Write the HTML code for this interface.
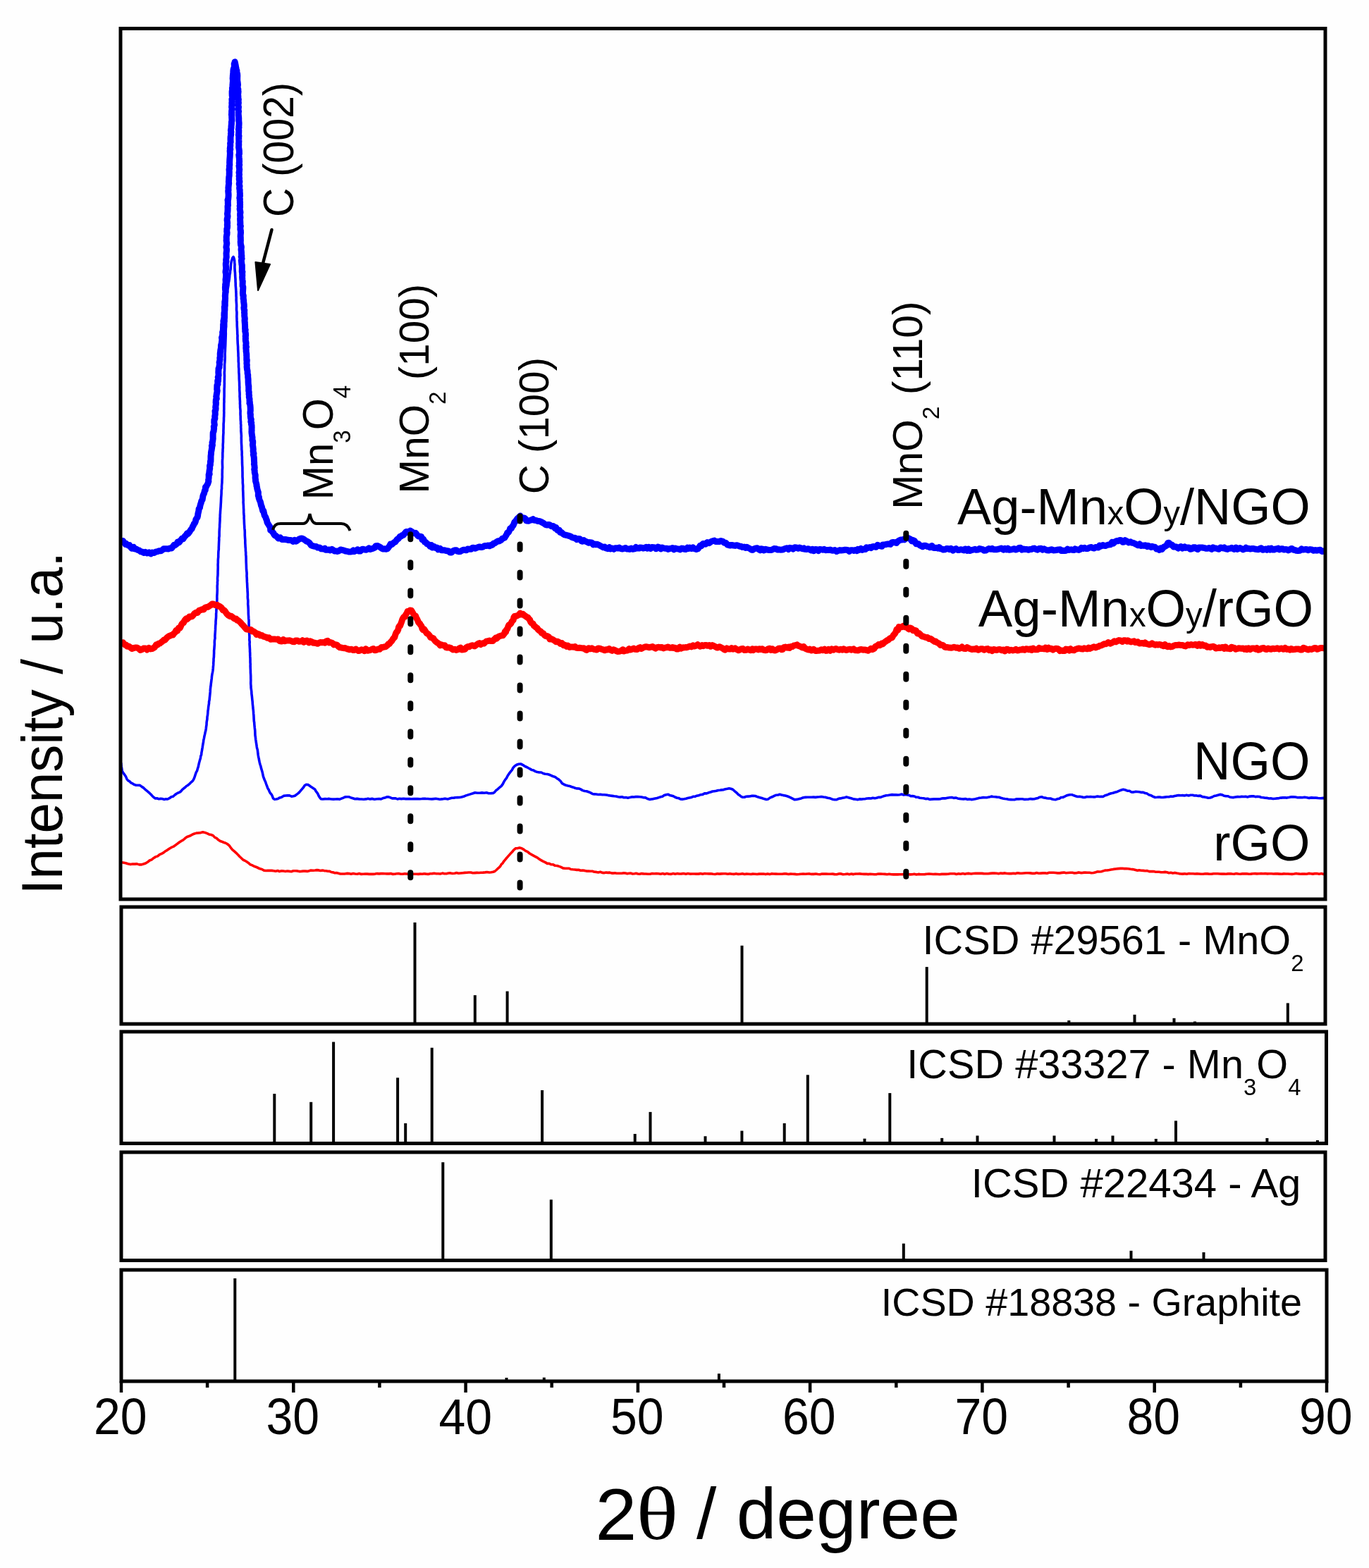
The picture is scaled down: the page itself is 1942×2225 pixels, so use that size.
<!DOCTYPE html>
<html><head><meta charset="utf-8"><title>XRD patterns</title>
<style>html,body{margin:0;padding:0;background:#fefefe;overflow:hidden}svg{display:block}
text{font-family:"Liberation Sans",Arial,sans-serif;fill:#000}</style></head>
<body><svg width="1942" height="2225" viewBox="0 0 1942 2225"><defs><clipPath id="cm"><rect x="171" y="40" width="1709" height="1236"/></clipPath></defs><g clip-path="url(#cm)"><path d="M171.7 1223.8L174.6 1224.0L178.4 1224.7L181.5 1225.7L185.2 1226.6L188.1 1226.1L191.2 1226.1L194.2 1225.9L197.4 1226.9L200.8 1226.9L203.6 1226.0L206.6 1225.0L209.4 1223.3L212.2 1221.0L215.2 1219.8L217.8 1217.7L220.7 1215.9L223.7 1214.9L226.4 1212.7L229.3 1211.3L232.1 1209.8L234.8 1207.7L237.6 1206.1L240.2 1204.3L243.2 1202.4L245.8 1201.4L248.6 1199.5L250.8 1197.9L253.0 1196.3L255.0 1194.8L257.1 1193.4L259.2 1192.4L261.4 1190.6L263.6 1188.7L265.4 1187.5L269.0 1186.3L272.1 1184.7L275.1 1183.2L278.7 1182.1L281.6 1181.9L284.8 1181.6L287.8 1180.8L290.7 1181.4L293.9 1182.6L296.5 1183.9L299.4 1184.5L302.3 1185.7L304.8 1188.4L307.2 1189.4L309.3 1191.4L312.4 1193.5L314.5 1194.2L317.5 1195.5L320.0 1196.2L322.3 1197.5L325.3 1199.9L327.3 1202.8L329.8 1205.9L332.3 1207.9L335.0 1210.3L337.6 1212.9L339.7 1215.3L342.4 1217.8L344.7 1220.0L347.5 1221.3L349.9 1222.7L352.4 1224.4L354.9 1226.8L357.4 1227.6L360.4 1229.3L363.2 1230.2L366.0 1231.5L368.8 1232.8L371.5 1233.4L374.2 1235.1L377.2 1235.5L379.8 1235.3L382.8 1235.4L385.6 1235.4L388.3 1235.8L391.0 1236.2L393.9 1235.5L396.5 1236.6L399.5 1235.8L402.1 1236.0L404.9 1236.5L407.6 1236.0L410.6 1236.4L413.4 1236.7L416.1 1235.8L419.1 1235.8L421.8 1235.9L424.7 1236.6L427.6 1236.4L430.4 1236.1L433.0 1236.1L436.0 1236.4L438.6 1235.8L441.1 1235.0L444.1 1235.2L447.0 1235.0L449.5 1234.6L452.3 1234.9L454.6 1235.5L457.4 1235.1L459.9 1235.6L462.5 1235.8L464.9 1236.3L467.7 1236.4L469.9 1237.5L472.6 1237.9L474.9 1238.8L477.5 1238.6L480.1 1239.2L482.8 1240.0L485.9 1240.0L488.9 1240.0L491.9 1239.4L495.0 1239.6L498.0 1240.2L501.0 1239.4L503.8 1240.0L507.0 1240.2L509.6 1239.6L512.4 1240.4L515.3 1240.3L518.3 1240.1L521.0 1240.1L523.7 1240.4L526.5 1240.4L529.3 1240.4L532.2 1240.1L534.9 1239.6L537.8 1239.9L540.5 1239.6L543.1 1239.6L546.1 1239.7L549.0 1239.9L551.6 1239.9L554.4 1239.6L557.2 1240.4L559.9 1240.2L562.7 1239.8L565.4 1239.5L568.5 1240.3L571.2 1240.3L574.1 1239.7L576.7 1240.0L579.5 1240.4L582.4 1240.5L585.0 1240.2L587.9 1240.2L590.7 1240.3L593.4 1240.4L596.2 1240.1L599.1 1240.2L601.7 1239.7L604.5 1240.1L607.5 1240.4L610.2 1239.8L613.2 1239.6L616.0 1239.3L618.8 1239.7L621.8 1239.7L624.6 1240.0L627.6 1239.1L630.3 1239.8L633.4 1239.7L636.2 1239.0L638.9 1238.9L641.9 1239.5L644.9 1239.3L647.6 1238.6L650.5 1239.3L653.3 1239.0L656.4 1238.7L659.3 1238.4L662.1 1238.2L664.8 1238.0L667.8 1238.0L670.6 1238.8L673.5 1238.6L676.5 1238.4L679.4 1238.5L682.3 1238.2L685.1 1238.1L688.1 1237.9L690.9 1237.5L694.0 1238.0L696.7 1237.7L699.6 1237.3L701.8 1236.5L704.1 1234.5L706.0 1232.7L707.8 1231.2L709.6 1229.3L711.3 1226.4L713.1 1224.9L714.5 1222.5L716.3 1220.4L718.0 1218.3L719.9 1216.1L721.4 1214.4L723.9 1211.6L726.4 1209.1L728.5 1206.3L731.4 1203.8L734.0 1203.8L737.0 1202.9L740.0 1203.7L742.9 1205.4L745.5 1207.4L748.4 1208.7L751.2 1211.0L754.0 1212.6L756.7 1214.1L759.5 1215.6L762.4 1217.1L765.0 1219.2L767.9 1220.8L770.7 1222.3L773.4 1223.6L776.4 1225.4L779.1 1225.4L782.0 1226.8L784.7 1226.8L787.5 1228.3L790.3 1228.5L793.1 1229.4L795.8 1230.4L798.6 1231.9L801.5 1232.3L804.1 1232.2L807.0 1232.2L809.7 1233.5L812.6 1233.8L815.3 1234.0L818.1 1234.4L820.7 1234.2L823.6 1235.3L826.4 1235.0L829.2 1235.4L832.0 1236.1L834.8 1236.1L837.6 1236.3L840.3 1236.3L843.2 1237.2L845.9 1237.4L848.7 1237.9L851.6 1237.3L854.4 1238.4L857.3 1238.6L859.8 1238.0L862.2 1238.4L864.9 1238.1L867.2 1238.9L869.6 1239.1L872.2 1238.8L874.8 1239.2L877.2 1239.2L879.7 1239.2L882.2 1239.3L884.7 1238.8L887.2 1239.0L889.8 1239.8L892.4 1239.3L895.0 1239.1L897.3 1240.0L900.0 1239.8L902.4 1239.3L904.9 1240.0L907.5 1240.2L910.1 1239.6L913.1 1239.9L916.3 1240.0L919.3 1240.2L922.4 1240.2L925.1 1239.6L928.1 1239.7L931.2 1239.6L934.2 1239.8L937.1 1240.2L940.2 1239.6L943.0 1240.4L946.0 1239.5L948.9 1240.3L952.1 1240.4L955.0 1239.5L957.9 1240.2L960.9 1239.6L963.9 1240.0L966.8 1239.9L969.7 1239.5L972.9 1240.2L975.8 1239.6L978.7 1240.1L981.9 1240.0L984.9 1240.0L987.6 1240.1L990.7 1240.1L993.7 1239.6L996.6 1240.3L999.5 1239.6L1002.5 1239.8L1005.5 1239.9L1008.6 1239.7L1011.5 1240.2L1014.5 1240.5L1017.6 1239.8L1020.4 1240.1L1023.4 1239.9L1026.5 1239.8L1029.3 1239.7L1032.4 1240.2L1035.4 1239.7L1038.3 1240.2L1041.1 1240.4L1044.3 1239.7L1047.3 1240.4L1050.2 1240.2L1053.1 1239.7L1056.1 1240.5L1059.0 1240.1L1062.0 1240.3L1065.2 1240.5L1067.9 1240.1L1070.8 1240.2L1074.1 1240.5L1076.8 1240.1L1079.8 1240.1L1083.0 1240.0L1086.0 1240.6L1088.9 1239.9L1091.9 1240.6L1094.9 1239.7L1097.6 1240.0L1100.7 1240.1L1103.6 1240.3L1106.7 1240.3L1109.7 1240.3L1112.7 1239.8L1115.6 1239.9L1118.5 1240.5L1121.5 1240.1L1124.5 1240.3L1127.4 1240.4L1130.3 1240.7L1133.3 1240.5L1136.4 1240.2L1139.3 1240.1L1142.4 1240.3L1145.4 1240.0L1148.4 1239.9L1151.3 1240.4L1154.3 1240.4L1157.3 1240.0L1160.3 1240.5L1163.3 1240.7L1166.1 1240.1L1169.1 1240.1L1172.0 1240.1L1175.0 1240.3L1178.0 1240.2L1181.1 1240.1L1184.1 1240.6L1186.9 1240.7L1189.9 1239.9L1193.1 1239.9L1195.8 1240.7L1198.7 1240.5L1201.9 1240.1L1204.7 1240.8L1207.8 1240.1L1210.8 1240.6L1213.7 1240.0L1216.8 1240.0L1219.6 1239.9L1222.8 1240.3L1225.7 1240.4L1228.8 1240.2L1231.5 1240.6L1234.4 1240.3L1237.6 1240.5L1240.5 1240.8L1243.5 1240.6L1246.4 1240.0L1249.4 1240.1L1252.3 1240.2L1255.3 1240.4L1258.4 1240.7L1261.4 1240.3L1264.4 1240.8L1267.3 1240.9L1270.1 1240.9L1273.3 1240.9L1276.3 1240.7L1279.2 1240.7L1282.3 1240.5L1285.2 1240.9L1288.0 1240.3L1290.9 1240.9L1294.1 1240.7L1296.9 1240.2L1300.0 1240.9L1302.9 1240.4L1306.0 1240.8L1308.9 1240.8L1311.8 1240.6L1315.0 1240.3L1318.0 1240.1L1320.8 1240.2L1323.8 1240.5L1326.9 1240.4L1330.0 1240.5L1333.0 1240.7L1336.0 1240.4L1338.8 1240.2L1341.9 1240.4L1345.0 1240.3L1347.9 1239.8L1350.9 1239.7L1353.9 1239.7L1356.7 1240.4L1359.9 1239.8L1362.6 1240.2L1365.8 1239.6L1368.8 1240.2L1371.8 1239.6L1374.6 1239.4L1377.7 1240.0L1380.8 1239.5L1383.8 1239.3L1386.7 1239.4L1389.5 1239.4L1392.8 1239.4L1395.5 1239.6L1398.6 1239.7L1401.7 1239.8L1404.7 1239.4L1407.7 1239.1L1410.5 1239.1L1413.7 1239.3L1416.6 1239.8L1419.5 1239.1L1422.5 1239.4L1425.5 1238.9L1428.6 1239.5L1431.6 1239.6L1434.6 1239.6L1437.6 1239.2L1440.6 1239.6L1443.4 1238.8L1446.4 1239.1L1449.6 1239.2L1452.6 1239.0L1455.5 1238.8L1458.5 1238.8L1461.3 1238.9L1464.4 1239.4L1467.3 1239.4L1470.5 1238.6L1473.5 1239.3L1476.5 1239.1L1479.3 1238.9L1482.4 1238.9L1485.2 1239.2L1488.3 1238.3L1491.3 1238.3L1494.3 1238.3L1497.3 1238.5L1500.4 1238.9L1503.2 1238.9L1506.3 1238.4L1509.4 1238.1L1512.2 1238.7L1515.1 1238.5L1518.3 1238.3L1521.3 1238.2L1524.3 1238.9L1527.1 1238.7L1530.1 1237.9L1533.1 1238.6L1536.1 1238.4L1539.0 1238.0L1542.2 1238.3L1545.4 1238.3L1548.3 1238.7L1551.2 1238.5L1554.2 1237.8L1556.7 1236.9L1559.5 1237.0L1562.4 1236.8L1565.0 1235.9L1568.0 1235.0L1570.6 1235.0L1573.6 1234.5L1576.1 1234.0L1579.6 1233.4L1582.8 1233.0L1586.1 1232.6L1589.5 1232.4L1592.1 1232.3L1594.7 1232.6L1597.6 1232.5L1600.1 1232.8L1603.7 1233.3L1606.8 1233.6L1609.8 1234.2L1613.6 1235.2L1615.9 1234.7L1618.9 1235.2L1621.7 1235.4L1624.6 1235.8L1627.4 1235.6L1630.2 1236.6L1633.1 1236.6L1636.0 1236.5L1638.6 1237.1L1641.3 1237.2L1644.1 1237.3L1647.0 1237.7L1649.7 1237.8L1652.7 1237.4L1655.4 1237.8L1658.2 1238.7L1660.8 1238.3L1663.7 1239.1L1666.7 1238.4L1669.2 1239.0L1672.2 1239.6L1674.9 1240.0L1677.8 1240.1L1680.5 1239.7L1683.5 1240.2L1686.5 1239.6L1689.1 1239.8L1692.2 1239.8L1695.0 1240.0L1698.1 1239.7L1700.9 1240.0L1703.8 1240.3L1706.8 1240.3L1709.7 1239.8L1712.8 1239.9L1715.7 1240.3L1718.5 1240.3L1721.5 1239.7L1724.4 1239.7L1727.4 1239.8L1730.3 1240.0L1733.4 1240.1L1736.1 1240.1L1739.2 1240.3L1742.0 1239.9L1745.1 1239.7L1747.9 1240.0L1750.8 1240.2L1753.7 1239.6L1756.7 1240.0L1759.8 1240.3L1762.5 1239.8L1765.5 1239.9L1768.5 1239.8L1771.5 1240.3L1774.4 1240.1L1777.3 1239.7L1780.3 1239.6L1783.0 1239.9L1785.9 1239.7L1789.0 1239.5L1791.8 1239.8L1794.9 1239.5L1797.7 1239.9L1800.6 1239.7L1803.6 1239.8L1806.5 1240.0L1809.4 1239.8L1812.4 1239.9L1815.2 1240.1L1818.2 1240.3L1821.1 1239.9L1824.1 1240.0L1827.1 1240.0L1830.0 1240.3L1832.8 1240.4L1835.8 1240.0L1838.7 1239.4L1841.6 1239.9L1844.6 1240.2L1847.5 1240.1L1850.6 1240.1L1853.5 1240.2L1856.5 1239.4L1859.3 1239.7L1862.2 1240.1L1865.2 1239.6L1868.0 1239.5L1871.4 1240.2L1874.5 1239.5L1877.6 1240.4L1879.8 1239.9" fill="none" stroke="#ff0000" stroke-width="3.6" stroke-linejoin="round" stroke-linecap="butt"/><path d="M171.7 1082.3L171.9 1084.6L172.3 1087.8L172.8 1090.7L173.3 1094.3L174.5 1096.3L176.2 1098.6L177.7 1100.7L178.8 1102.6L180.0 1105.6L181.7 1107.6L183.6 1108.6L185.7 1110.8L187.8 1111.7L190.2 1113.3L193.1 1114.2L196.0 1114.2L198.5 1114.4L201.2 1116.4L203.6 1117.9L205.8 1120.1L208.6 1122.4L210.4 1123.9L212.4 1125.7L214.3 1127.6L216.3 1129.7L218.2 1131.6L220.3 1133.0L222.6 1132.8L225.3 1133.7L227.9 1133.4L230.2 1133.5L232.7 1134.4L235.2 1133.8L237.8 1134.0L240.3 1132.7L243.0 1130.8L245.3 1130.3L248.0 1128.0L250.0 1126.5L252.2 1125.2L254.4 1124.4L256.5 1123.0L258.7 1120.4L260.6 1118.8L262.4 1117.5L264.4 1115.5L266.2 1114.5L268.2 1112.9L270.4 1110.7L272.2 1109.2L273.8 1107.5L275.2 1104.9L276.3 1101.9L277.1 1099.3L278.2 1096.1L279.6 1093.6L280.5 1090.2L281.2 1088.4L281.7 1085.9L282.4 1082.8L283.0 1080.6L283.7 1078.0L284.4 1075.9L284.8 1072.7L285.6 1071.1L285.9 1068.0L286.4 1065.4L286.8 1062.9L287.2 1060.6L287.6 1057.9L288.1 1054.9L288.5 1053.1L288.8 1050.2L289.5 1047.3L289.9 1044.8L290.6 1041.8L291.1 1039.3L291.8 1036.7L292.3 1033.5L292.5 1031.4L293.0 1028.5L293.1 1025.3L293.5 1022.6L293.9 1020.5L294.0 1017.2L294.5 1014.9L294.8 1011.8L294.9 1009.1L295.4 1006.3L295.6 1003.7L296.0 1001.0L296.5 998.0L296.5 995.9L297.1 993.2L297.3 990.7L297.7 986.9L297.9 984.9L298.2 981.9L298.3 978.9L298.6 975.8L299.0 973.3L299.3 970.2L299.6 968.1L299.9 965.5L300.3 962.4L300.5 959.8L301.0 956.5L301.5 954.1L301.9 951.8L302.3 948.2L302.4 946.2L302.7 943.4L302.8 940.0L303.0 937.9L303.0 935.1L303.4 932.3L303.5 928.8L303.6 927.1L303.6 923.3L303.9 920.6L304.1 917.6L304.4 914.1L304.3 911.2L304.5 908.1L305.0 905.9L304.9 902.5L305.1 899.3L305.3 896.7L305.5 893.4L305.6 890.2L305.7 887.9L306.0 885.0L306.0 882.0L306.2 879.6L306.5 876.7L306.6 874.2L306.6 871.2L306.8 868.9L306.9 866.1L307.1 863.0L307.2 860.7L307.2 857.7L307.5 855.4L307.8 852.2L307.9 849.9L307.8 846.9L307.9 844.6L308.1 842.2L308.2 839.4L308.3 836.8L308.2 834.3L308.2 831.3L308.5 828.6L308.4 826.1L308.7 823.7L308.5 821.8L308.6 819.2L308.9 816.7L309.0 813.9L309.0 810.8L309.1 808.7L309.2 805.8L309.2 804.1L309.1 801.0L309.3 798.9L309.3 795.7L309.4 793.4L309.7 790.5L309.7 787.8L309.8 785.1L309.9 782.4L310.3 779.6L310.3 776.6L310.4 774.5L310.5 771.6L310.6 769.0L310.8 765.8L310.7 763.6L311.1 760.7L311.1 758.2L311.1 755.0L311.2 752.6L311.4 749.5L311.6 747.6L311.6 744.6L311.8 742.0L312.0 738.7L312.0 735.7L312.2 733.3L312.2 730.7L312.4 728.5L312.5 726.2L312.7 723.3L312.9 721.0L313.1 718.2L313.2 715.8L313.4 712.9L313.5 710.9L313.6 707.7L313.7 705.6L313.9 703.3L314.1 700.1L314.1 697.5L314.2 695.4L314.6 693.1L314.5 690.5L314.7 687.5L315.0 684.6L315.0 682.8L315.1 679.9L315.3 676.9L315.2 673.3L315.3 670.2L315.3 667.0L315.6 663.6L315.5 660.0L315.4 657.3L315.4 654.3L315.7 650.2L315.8 647.9L315.8 645.7L315.8 643.0L316.0 640.5L316.0 637.9L316.3 635.2L316.2 632.0L316.3 629.7L316.5 627.4L316.5 624.3L316.6 622.1L316.6 619.8L316.8 616.4L317.0 613.8L316.9 611.8L317.0 609.1L317.1 606.4L317.1 603.5L317.1 601.4L317.4 598.6L317.5 595.9L317.5 593.3L317.7 590.3L317.7 587.9L317.8 585.5L317.7 582.9L317.8 580.7L317.8 578.2L317.8 575.0L317.8 572.2L318.0 570.3L317.9 567.1L318.0 565.1L318.1 562.5L318.1 559.3L318.1 556.7L318.1 554.5L318.1 551.6L318.3 548.8L318.3 547.1L318.4 544.0L318.3 541.6L318.4 539.4L318.4 536.1L318.5 533.7L318.4 531.4L318.3 528.9L318.5 525.9L318.6 523.0L318.6 520.2L318.6 517.1L318.9 514.1L319.0 511.7L319.2 507.9L319.2 505.5L319.1 502.3L319.3 499.1L319.4 497.0L319.5 494.0L319.7 490.4L319.8 487.9L319.9 485.0L320.0 481.7L320.1 479.4L320.2 476.2L320.3 473.7L320.2 470.7L320.3 468.3L320.4 466.0L320.7 463.5L320.7 461.0L320.7 458.2L321.0 455.6L320.9 453.5L321.2 450.4L321.2 447.9L321.3 445.0L321.3 442.4L321.6 439.8L321.6 437.2L321.6 434.6L321.8 432.0L321.8 429.4L321.9 427.2L321.9 424.1L322.1 422.0L322.3 419.0L322.4 416.7L322.6 414.4L323.0 410.6L323.5 407.7L324.0 404.9L324.2 401.7L324.8 399.0L325.2 396.3L325.6 393.2L325.8 390.2L326.4 387.7L326.6 384.2L327.1 382.2L327.4 378.1L327.6 375.1L328.1 372.0L328.5 370.2L329.9 365.9L331.1 364.5L332.0 366.6L332.6 369.5L332.7 372.6L333.0 375.1L332.9 379.0L333.0 381.6L333.2 384.8L333.5 387.2L333.6 390.7L333.8 393.5L334.0 396.2L334.0 399.0L334.2 402.2L334.2 404.8L334.5 408.1L334.7 410.8L334.8 413.5L335.0 416.3L335.0 420.0L335.2 422.2L335.1 425.9L335.3 428.9L335.5 431.3L335.6 434.5L335.5 437.1L335.5 440.0L335.9 442.7L335.9 445.6L335.8 449.1L335.9 451.4L336.0 454.9L336.2 457.3L336.2 461.1L336.3 463.6L336.5 466.5L336.6 469.1L336.7 471.0L336.7 473.5L337.0 476.1L336.9 479.6L337.0 482.1L337.1 484.3L337.2 487.2L337.4 489.6L337.6 492.5L337.6 494.8L337.7 496.9L337.9 500.0L338.0 502.2L338.0 505.1L338.2 507.3L338.2 510.3L338.2 513.0L338.5 515.4L338.5 518.2L338.5 520.6L338.8 523.1L338.8 525.5L338.8 528.2L339.1 531.3L339.2 534.2L339.2 536.7L339.3 538.8L339.5 541.9L339.6 544.1L339.6 546.6L339.8 549.7L339.7 552.3L339.8 554.1L340.0 556.8L340.1 559.8L340.0 562.5L340.2 564.8L340.3 567.7L340.5 569.8L340.4 572.4L340.6 574.8L340.6 578.1L340.9 580.9L341.1 583.4L341.0 585.3L341.0 588.2L341.2 590.8L341.2 593.8L341.3 596.0L341.6 598.9L341.5 600.9L341.8 603.3L341.7 606.4L341.9 608.7L341.8 611.3L342.1 614.2L342.3 617.1L342.4 618.9L342.3 621.5L342.4 624.4L342.4 627.2L342.5 629.6L342.7 632.7L342.8 634.8L342.8 637.5L343.1 640.4L343.2 643.1L343.1 645.1L343.4 648.3L343.4 650.9L343.5 653.7L343.5 656.7L343.7 660.8L343.9 663.6L343.9 667.4L344.0 670.3L344.0 673.4L344.0 676.3L344.3 680.5L344.3 682.6L344.3 685.3L344.6 688.1L344.7 690.5L344.6 693.6L344.7 696.7L344.9 699.5L344.9 701.3L345.0 704.5L345.1 707.0L345.2 710.3L345.1 712.8L345.3 715.3L345.5 718.5L345.5 720.4L345.7 723.2L345.7 726.7L345.8 729.0L346.2 732.6L346.1 735.0L346.3 737.7L346.4 741.4L346.5 743.6L346.7 746.3L346.9 749.9L347.2 752.7L347.3 755.0L347.3 758.8L347.4 761.0L347.6 763.9L347.8 766.6L347.8 770.4L348.0 773.3L348.1 776.3L348.4 778.9L348.4 781.2L348.7 784.0L348.7 787.4L349.0 789.3L349.1 792.5L349.1 794.8L349.2 798.4L349.3 800.3L349.4 803.0L349.5 806.5L349.6 808.5L350.0 812.0L350.1 814.0L350.0 817.4L350.2 819.9L350.3 821.9L350.4 825.4L350.6 827.9L350.7 830.6L350.8 833.3L351.0 835.7L351.1 839.2L351.3 841.2L351.4 844.6L351.3 846.7L351.4 849.0L351.8 851.9L351.8 854.1L351.7 857.4L352.0 860.1L352.1 862.1L352.2 864.2L352.3 867.1L352.3 869.8L352.4 872.3L352.6 874.6L352.7 877.4L353.0 880.3L353.0 882.7L353.0 885.4L353.1 887.1L353.3 890.2L353.3 892.6L353.4 895.5L353.6 897.6L353.7 900.6L353.9 902.9L353.9 905.7L353.8 908.1L354.2 911.1L354.0 913.9L354.2 916.6L354.3 918.5L354.5 921.8L354.5 924.5L354.7 926.6L354.7 929.4L354.8 931.9L355.0 935.0L355.0 937.0L355.0 939.9L355.2 942.4L355.1 945.4L355.2 947.9L355.4 951.6L355.4 954.2L355.6 957.1L355.7 959.5L355.7 962.0L355.8 965.0L355.7 968.3L355.7 970.4L356.0 973.6L356.0 975.8L356.4 978.6L356.8 981.6L356.9 984.6L357.3 987.4L357.6 990.4L357.8 992.6L358.2 996.0L358.3 998.6L358.7 1002.0L358.8 1003.8L359.2 1006.9L359.5 1010.0L359.6 1012.2L359.9 1015.2L360.0 1017.3L360.1 1020.2L360.3 1023.1L360.7 1025.4L360.8 1027.6L361.1 1030.9L361.3 1032.9L361.7 1035.9L361.8 1038.1L361.9 1041.4L362.0 1043.6L362.4 1046.1L362.7 1049.2L363.1 1051.6L363.3 1053.4L363.8 1056.2L364.2 1059.2L364.6 1061.7L365.2 1063.5L365.6 1066.3L365.8 1068.6L366.2 1071.5L366.7 1074.4L367.2 1076.2L367.6 1078.9L368.2 1081.7L369.0 1084.8L369.8 1087.0L370.5 1090.1L371.3 1092.7L372.1 1095.4L372.8 1098.6L373.4 1101.6L374.3 1104.1L375.4 1107.0L376.5 1109.2L377.7 1112.8L378.7 1115.4L379.8 1118.5L381.1 1120.5L382.4 1123.6L383.7 1125.8L385.1 1127.2L386.4 1129.9L387.5 1132.8L389.2 1134.2L391.6 1134.0L394.1 1133.5L396.8 1131.9L399.4 1131.2L402.2 1129.4L405.1 1129.0L407.7 1128.8L410.7 1128.9L413.6 1130.1L416.2 1129.8L418.3 1129.3L420.8 1127.4L422.8 1125.9L424.7 1124.1L426.8 1121.6L428.5 1119.6L430.5 1117.3L432.3 1114.5L434.4 1113.2L437.3 1113.6L440.2 1115.8L442.8 1117.5L446.6 1119.9L448.1 1122.7L449.6 1124.6L450.9 1126.6L452.1 1129.3L453.5 1131.6L455.2 1133.7L457.7 1134.0L461.0 1133.6L464.1 1133.7L466.9 1133.4L470.1 1134.0L473.0 1134.1L475.8 1134.0L478.9 1133.7L481.9 1134.2L484.4 1133.2L487.0 1132.1L489.6 1130.9L491.9 1130.7L495.2 1130.8L497.8 1131.9L500.6 1132.7L503.6 1133.8L506.4 1133.4L509.5 1133.9L512.7 1134.0L515.9 1134.2L519.1 1133.9L522.0 1133.2L525.1 1133.9L528.3 1133.4L531.2 1134.2L534.5 1133.8L537.6 1133.5L540.5 1133.9L543.4 1132.6L546.0 1132.0L548.9 1130.8L551.2 1130.9L553.9 1131.8L556.3 1132.9L558.8 1132.7L561.2 1132.9L563.8 1133.9L566.4 1133.3L569.4 1133.6L572.5 1133.3L575.4 1133.6L578.3 1133.6L581.1 1133.5L583.8 1133.7L586.9 1133.5L589.5 1133.6L592.4 1133.5L595.4 1133.7L598.2 1133.5L600.9 1133.2L603.9 1133.4L606.8 1133.5L609.7 1133.8L612.5 1133.9L615.4 1133.6L618.2 1133.3L621.2 1133.7L623.9 1134.2L627.0 1133.9L629.8 1133.4L632.6 1133.4L635.5 1133.9L638.1 1133.0L640.9 1132.3L643.8 1132.1L646.3 1131.8L649.1 1131.6L652.2 1131.5L654.8 1131.0L657.5 1130.3L661.0 1128.9L664.2 1127.9L667.4 1126.9L670.9 1125.8L673.9 1124.7L677.3 1125.2L680.6 1125.3L683.7 1124.9L686.9 1125.3L690.1 1124.8L693.2 1125.7L696.7 1125.6L699.6 1125.4L701.7 1124.0L703.6 1121.6L705.3 1120.5L707.2 1118.7L709.2 1117.0L711.2 1115.4L713.2 1112.6L714.7 1109.6L716.5 1106.6L718.5 1104.1L720.2 1100.8L721.9 1098.2L724.2 1095.2L726.3 1092.7L727.9 1089.4L730.2 1087.0L732.8 1085.3L735.8 1084.3L738.6 1084.0L740.8 1085.0L743.2 1086.4L745.3 1087.8L747.7 1088.7L749.9 1090.0L752.0 1091.1L754.4 1092.6L756.8 1093.1L759.4 1094.6L762.1 1095.5L764.7 1095.9L767.7 1096.0L770.5 1097.5L773.3 1098.2L776.3 1098.5L778.4 1099.0L781.8 1100.4L784.2 1101.6L787.3 1102.4L789.9 1104.4L792.6 1106.1L795.3 1108.5L797.4 1111.7L800.2 1113.2L802.8 1114.2L805.5 1114.9L808.0 1115.4L810.7 1116.5L813.3 1117.2L815.8 1118.3L818.6 1118.9L821.2 1119.0L823.6 1119.9L826.4 1121.6L829.4 1122.5L832.1 1122.7L834.8 1123.7L837.6 1124.9L840.4 1126.4L843.0 1126.9L845.8 1127.0L848.7 1127.5L851.6 1127.2L854.5 1127.8L857.1 1127.7L860.0 1128.0L862.9 1128.6L865.5 1129.0L868.4 1129.4L871.3 1129.8L873.9 1130.0L876.9 1130.8L879.6 1131.1L882.3 1130.7L885.0 1131.7L887.9 1131.6L890.7 1132.2L893.4 1131.6L896.2 1130.9L899.1 1131.0L901.8 1130.6L904.6 1130.5L907.3 1130.7L910.1 1131.0L912.9 1131.8L915.7 1131.9L918.6 1133.5L921.5 1134.4L924.3 1134.0L926.8 1133.6L929.5 1133.0L932.1 1132.5L934.7 1131.6L937.3 1130.7L939.7 1130.3L942.2 1128.6L944.9 1127.8L947.6 1127.2L949.9 1128.4L952.3 1129.0L955.2 1129.8L957.7 1131.3L960.3 1132.3L962.9 1132.6L965.3 1134.0L967.8 1134.1L970.5 1133.8L973.1 1133.3L975.5 1132.6L978.0 1132.1L980.8 1131.5L983.2 1130.3L985.8 1130.3L988.4 1129.2L991.1 1128.8L993.8 1127.7L996.7 1127.4L999.4 1125.9L1002.4 1125.9L1005.1 1124.8L1008.0 1124.1L1010.5 1123.0L1013.2 1122.7L1016.2 1122.3L1018.7 1121.5L1021.3 1121.3L1023.9 1120.9L1026.5 1120.6L1029.2 1119.8L1031.8 1119.3L1034.4 1118.7L1036.7 1119.2L1039.0 1120.0L1040.9 1121.4L1043.1 1123.6L1045.0 1124.9L1047.1 1127.3L1049.3 1128.6L1051.4 1130.3L1053.6 1131.3L1055.9 1131.3L1058.6 1130.3L1061.1 1130.1L1063.4 1130.0L1066.0 1129.4L1068.7 1129.4L1071.5 1129.5L1074.7 1130.8L1077.8 1131.7L1080.8 1132.5L1083.9 1133.6L1087.1 1134.5L1089.8 1133.9L1092.6 1131.9L1095.4 1130.8L1098.2 1129.4L1100.7 1128.3L1103.8 1128.0L1106.2 1127.2L1108.8 1128.0L1111.3 1128.6L1113.9 1129.0L1117.4 1130.0L1120.6 1131.3L1123.6 1132.9L1127.0 1134.7L1129.9 1134.4L1133.1 1133.8L1136.4 1132.9L1139.6 1131.7L1142.5 1131.4L1145.6 1131.3L1148.6 1131.2L1151.3 1131.2L1153.9 1131.1L1156.8 1131.4L1159.5 1131.0L1162.4 1130.8L1165.3 1130.5L1168.1 1131.0L1170.6 1131.2L1174.1 1132.3L1177.5 1132.8L1180.8 1134.2L1184.0 1134.7L1186.9 1134.6L1189.7 1133.3L1192.4 1132.9L1195.2 1132.3L1198.2 1131.7L1200.8 1130.9L1204.4 1131.9L1207.5 1132.8L1210.6 1133.9L1214.2 1134.2L1216.7 1134.8L1219.3 1133.9L1222.0 1134.1L1224.9 1133.7L1227.4 1133.6L1230.1 1133.0L1232.8 1132.9L1235.4 1133.0L1238.2 1132.2L1240.9 1132.8L1243.6 1132.3L1246.1 1131.4L1249.1 1131.4L1251.7 1130.4L1254.4 1129.4L1257.1 1128.8L1259.9 1128.5L1262.8 1128.0L1265.3 1127.6L1268.0 1127.9L1271.0 1127.9L1273.5 1128.0L1276.2 1127.7L1279.1 1127.1L1281.8 1127.9L1284.5 1127.5L1287.2 1127.9L1289.7 1128.5L1291.9 1129.7L1294.4 1129.6L1297.2 1130.0L1299.7 1131.3L1302.2 1131.3L1304.7 1132.2L1307.6 1132.5L1310.3 1132.7L1313.3 1133.6L1315.9 1133.3L1318.8 1134.4L1321.7 1134.1L1325.0 1133.9L1328.2 1133.9L1331.4 1133.9L1334.3 1133.6L1337.6 1132.7L1340.6 1132.9L1343.9 1132.2L1347.2 1131.8L1350.2 1131.5L1353.0 1132.4L1355.8 1132.0L1358.5 1132.9L1361.3 1133.4L1364.0 1133.7L1367.0 1133.9L1369.6 1133.5L1372.2 1134.4L1375.2 1134.0L1378.0 1134.6L1380.8 1134.2L1383.6 1133.8L1386.5 1133.1L1389.2 1132.2L1391.9 1132.0L1394.8 1131.6L1397.8 1131.7L1400.6 1131.6L1403.3 1131.1L1406.3 1130.1L1408.7 1130.5L1411.9 1130.8L1414.5 1131.1L1417.1 1131.3L1419.9 1132.3L1422.6 1133.0L1425.4 1133.5L1428.1 1133.8L1431.0 1134.5L1433.9 1134.6L1436.4 1134.8L1439.2 1134.8L1442.2 1133.8L1445.2 1133.9L1447.7 1133.8L1450.5 1133.8L1453.5 1134.4L1456.3 1134.2L1459.1 1134.1L1461.8 1133.6L1464.6 1133.9L1467.3 1133.8L1469.9 1133.1L1472.5 1132.4L1474.9 1131.2L1477.6 1130.8L1480.1 1131.7L1482.5 1132.1L1485.1 1132.7L1487.6 1133.0L1490.1 1133.0L1492.6 1134.0L1495.1 1134.5L1497.7 1134.7L1500.2 1133.6L1502.7 1133.2L1505.2 1131.5L1507.5 1131.5L1510.1 1130.3L1512.7 1129.0L1515.2 1128.2L1517.7 1127.7L1520.6 1127.7L1523.3 1128.8L1526.1 1129.8L1528.6 1130.5L1531.5 1130.4L1534.4 1130.7L1536.7 1131.5L1539.4 1131.4L1541.8 1130.5L1544.4 1130.8L1547.0 1130.5L1549.5 1130.7L1551.9 1130.9L1554.3 1130.6L1557.0 1130.0L1559.7 1130.5L1562.3 1130.3L1564.6 1130.5L1567.6 1128.8L1570.5 1128.0L1573.0 1126.8L1576.3 1125.7L1578.8 1125.3L1581.8 1124.2L1584.9 1123.4L1587.8 1122.1L1590.7 1121.0L1593.4 1120.3L1596.5 1121.0L1599.2 1122.1L1602.2 1122.3L1605.0 1124.0L1607.6 1124.1L1610.6 1123.4L1613.5 1123.5L1616.4 1123.8L1619.2 1124.4L1621.8 1124.3L1624.6 1125.6L1627.3 1126.1L1630.1 1128.1L1633.0 1128.8L1635.8 1130.3L1638.6 1131.5L1641.3 1131.3L1644.3 1131.0L1646.9 1131.4L1649.7 1131.5L1652.6 1131.1L1655.2 1130.7L1658.2 1130.7L1660.9 1130.0L1663.6 1130.2L1666.4 1129.4L1669.3 1128.9L1672.1 1128.5L1674.8 1128.8L1677.8 1128.6L1680.4 1129.0L1683.2 1128.3L1686.1 1128.9L1688.9 1128.2L1691.8 1128.2L1694.4 1129.0L1697.3 1128.9L1699.9 1129.4L1702.7 1129.1L1705.6 1130.7L1708.2 1130.9L1711.2 1131.5L1713.8 1132.2L1716.7 1132.0L1719.6 1131.0L1722.4 1129.5L1725.2 1129.0L1727.9 1128.2L1730.6 1127.4L1733.6 1127.9L1736.2 1129.2L1739.1 1129.6L1741.7 1129.7L1744.4 1131.0L1747.3 1131.5L1749.9 1131.6L1752.7 1131.0L1755.6 1130.6L1758.6 1130.7L1761.4 1130.4L1764.1 1130.5L1767.1 1130.2L1769.7 1130.9L1772.6 1130.1L1775.6 1129.9L1778.2 1129.7L1780.9 1130.6L1783.8 1130.3L1786.7 1130.5L1789.1 1131.5L1791.9 1131.7L1794.7 1132.2L1797.7 1132.4L1800.4 1133.0L1803.3 1132.9L1805.9 1133.5L1808.8 1133.2L1811.6 1132.9L1814.5 1132.6L1817.1 1132.1L1819.8 1131.9L1822.8 1131.8L1825.5 1132.1L1828.3 1131.6L1831.0 1130.9L1834.2 1130.9L1837.5 1131.0L1840.8 1131.7L1844.1 1131.5L1847.3 1131.7L1850.6 1131.3L1853.9 1131.8L1857.0 1132.4L1860.4 1131.9L1863.4 1132.1L1866.8 1132.1L1869.9 1132.5L1873.6 1132.8L1877.3 1132.4L1879.8 1132.7" fill="none" stroke="#0000ff" stroke-width="3.6" stroke-linejoin="round" stroke-linecap="butt"/><path d="M171.5 910.7L173.3 913.0L174.5 911.8L177.3 915.1L178.8 915.1L180.4 917.2L182.5 917.0L184.4 918.3L187.1 920.5L189.8 919.5L191.8 919.1L193.8 918.9L196.7 920.3L199.0 922.5L201.3 921.8L203.6 920.0L206.1 919.9L208.6 922.0L211.1 919.3L213.7 920.9L216.0 920.6L217.8 919.3L219.3 918.6L221.7 914.7L223.3 915.0L224.8 913.2L226.7 913.1L228.5 911.5L230.2 910.4L232.5 908.0L234.0 908.3L235.9 905.9L237.3 904.4L239.6 902.8L241.7 902.0L243.5 901.1L245.2 901.1L246.7 898.9L248.4 897.4L249.7 894.6L251.6 895.1L253.5 890.9L255.3 891.1L256.9 887.6L258.1 885.2L259.5 883.9L260.4 883.7L261.7 880.7L264.0 878.0L265.0 878.8L267.1 877.2L268.6 875.1L270.7 875.0L272.4 874.7L274.2 872.9L276.0 870.4L278.5 869.1L280.1 869.4L282.5 866.3L285.1 865.4L286.3 864.8L288.9 864.9L290.9 862.3L292.5 861.6L295.0 861.2L297.0 859.9L299.0 858.8L300.7 856.9L303.0 857.3L304.8 858.4L307.9 858.3L309.8 860.2L311.5 860.3L314.0 862.1L315.2 864.0L316.2 865.9L317.9 865.9L319.5 867.6L321.3 870.5L323.8 873.0L326.4 874.5L328.0 874.3L330.2 876.1L332.7 878.1L335.0 878.1L336.4 880.2L337.6 880.2L339.6 881.9L341.5 883.8L342.5 885.1L344.2 886.7L346.1 888.9L347.6 890.8L349.4 892.8L352.1 893.4L353.7 893.7L355.9 893.4L357.7 895.9L359.5 895.8L362.1 897.7L363.8 900.4L365.9 899.3L368.2 900.3L369.3 901.9L371.4 901.4L374.0 903.3L375.2 903.4L377.6 904.2L379.4 905.2L381.4 904.8L383.9 907.2L385.9 907.0L388.2 906.9L390.5 907.1L393.0 907.4L394.7 907.0L396.8 909.6L399.5 910.1L401.8 907.4L404.0 909.8L406.3 909.0L408.2 909.1L410.8 908.7L412.8 909.4L415.4 910.5L417.7 910.7L419.4 908.9L421.9 909.0L424.2 910.3L427.0 910.1L429.2 908.6L431.1 911.4L433.2 909.8L435.3 909.0L438.1 912.0L439.9 909.8L441.7 910.4L444.1 912.2L446.0 912.1L447.8 912.5L450.6 913.3L451.9 912.5L454.6 911.5L456.9 911.8L458.8 911.4L461.1 912.2L462.9 909.9L464.9 909.4L467.1 912.0L468.8 911.5L471.2 912.2L473.5 914.9L475.5 914.6L477.9 915.1L479.7 917.1L481.8 918.7L483.5 918.8L485.7 919.4L488.3 919.7L489.5 919.4L492.3 920.9L494.3 921.1L495.8 921.8L498.5 921.2L500.8 922.4L502.2 922.5L504.9 921.1L506.9 922.6L508.5 923.5L510.6 923.0L512.9 921.8L515.1 922.3L516.9 923.7L518.9 920.7L521.3 923.2L523.6 922.8L525.5 922.5L527.5 921.3L529.8 920.5L531.5 922.7L533.6 922.5L536.5 920.9L538.6 921.3L540.9 918.6L542.6 918.7L545.2 917.9L546.9 917.8L549.5 915.7L550.8 914.0L552.3 913.7L553.9 911.4L555.8 909.5L557.8 906.2L558.8 905.1L559.7 904.4L560.7 901.0L561.9 897.9L562.7 896.7L563.6 896.0L564.9 893.3L565.5 890.0L566.7 887.9L567.6 888.0L568.5 885.5L569.8 882.0L570.7 879.0L571.7 877.1L572.8 875.4L574.5 875.3L575.4 872.6L577.3 869.7L578.1 867.6L579.9 867.6L581.6 866.1L583.5 866.2L585.1 868.8L586.4 871.2L587.8 873.4L589.6 874.0L590.7 877.2L591.7 878.5L592.8 881.0L593.6 883.0L594.2 883.8L595.6 885.0L596.3 886.3L598.0 888.7L598.9 892.0L600.1 893.9L601.6 892.7L603.3 895.4L605.3 898.6L606.6 899.0L607.8 900.1L609.6 902.2L610.7 904.4L612.3 904.9L614.7 905.7L615.7 907.5L617.4 909.6L618.9 911.0L620.6 912.1L622.8 913.7L624.4 915.8L626.1 914.7L628.9 916.1L630.9 915.8L632.8 918.6L634.6 919.1L637.0 918.8L639.4 919.5L640.9 920.8L642.6 921.9L645.1 921.3L647.1 922.4L649.5 921.7L651.1 920.2L653.3 919.1L655.0 921.9L657.1 921.7L659.7 921.3L661.2 919.0L663.9 917.5L665.4 917.8L667.6 916.5L670.0 915.7L672.3 916.7L673.6 916.9L676.0 914.9L678.2 913.4L680.2 912.5L682.0 914.5L684.7 912.8L686.6 913.2L688.2 911.5L690.3 909.9L692.4 909.6L694.4 909.0L696.6 909.6L699.3 909.5L701.2 907.2L703.4 905.1L704.7 906.0L707.4 903.2L709.4 902.5L711.6 901.9L713.4 901.7L715.3 899.3L716.2 896.6L717.6 896.7L718.3 893.9L720.0 891.8L720.7 889.5L722.1 886.5L723.6 886.1L724.9 884.6L726.0 882.2L726.4 881.5L728.1 880.0L728.9 876.0L729.9 874.5L731.9 874.3L733.4 873.9L736.1 872.4L737.8 870.1L739.3 872.0L741.7 871.2L743.8 873.3L745.3 874.2L747.2 875.6L748.8 876.1L750.3 878.3L751.8 879.8L752.7 882.5L754.2 884.2L756.1 884.9L757.4 888.1L759.0 888.9L760.3 890.2L762.0 891.3L763.4 893.4L765.1 894.9L767.1 895.9L768.4 898.2L770.6 898.6L772.2 901.3L774.4 902.7L776.0 902.5L778.6 904.0L780.0 907.0L782.3 906.6L784.5 907.8L786.9 909.3L788.7 910.7L791.2 910.3L793.1 911.4L794.8 913.4L797.1 912.5L799.4 915.8L801.5 915.3L803.8 917.3L805.3 916.1L808.1 918.4L809.5 918.1L812.2 918.1L814.1 918.2L815.8 917.6L817.8 919.3L819.9 919.5L822.2 919.3L824.8 919.6L826.3 919.9L828.2 919.8L830.7 921.9L832.4 922.4L835.1 919.7L837.5 920.8L839.6 919.9L841.9 921.2L844.4 921.5L846.5 922.0L848.3 919.9L850.8 920.3L852.7 920.9L855.3 921.8L857.8 922.8L859.6 921.7L861.8 922.1L864.1 920.6L866.3 922.4L868.5 923.4L870.4 921.8L872.9 922.9L874.2 923.7L876.4 924.5L878.7 924.3L881.3 923.4L883.4 921.8L885.0 924.0L887.0 923.2L890.2 923.0L892.4 920.7L894.3 922.0L896.5 921.2L899.0 920.1L900.6 921.2L903.7 921.6L905.6 919.7L908.1 918.6L909.7 920.5L912.5 919.1L914.8 918.0L916.7 917.8L918.6 918.1L920.7 918.7L923.3 918.3L925.7 917.6L927.8 919.0L929.9 920.1L931.9 918.6L934.5 918.3L937.2 918.9L939.1 918.4L941.4 919.9L944.1 918.9L945.7 918.7L947.6 918.0L949.9 919.2L952.6 919.3L954.0 918.5L955.8 919.5L957.7 919.3L959.7 920.9L962.3 920.9L964.1 918.1L966.0 920.1L968.8 918.8L970.5 918.9L972.3 918.6L974.5 918.7L976.7 917.8L978.9 917.0L980.9 917.9L983.2 915.9L985.1 917.1L987.4 916.3L989.7 914.7L991.5 916.2L993.4 917.3L996.0 915.6L997.8 916.7L999.9 915.5L1002.1 915.4L1003.6 916.3L1006.1 915.5L1008.1 917.2L1010.5 915.6L1012.7 916.6L1014.3 917.4L1016.8 918.9L1018.8 918.9L1020.5 917.7L1022.6 918.6L1025.1 920.0L1027.1 921.6L1028.8 922.1L1031.1 919.9L1033.7 920.9L1036.3 921.0L1037.8 919.7L1040.0 921.2L1042.8 919.9L1044.7 921.3L1047.5 922.8L1049.7 921.8L1051.6 920.7L1053.9 920.6L1055.9 922.6L1058.4 922.3L1060.5 921.0L1062.6 921.9L1064.5 922.8L1067.2 920.8L1068.6 922.6L1071.1 920.9L1073.1 920.9L1075.5 922.0L1077.2 920.7L1079.2 921.6L1081.3 920.7L1083.2 922.3L1086.0 922.7L1087.8 922.6L1089.4 920.8L1092.0 920.2L1093.6 922.6L1095.8 920.8L1098.1 922.8L1099.8 923.0L1102.1 921.9L1104.3 920.3L1106.8 920.1L1108.6 921.8L1110.3 921.6L1111.9 918.7L1114.3 918.1L1116.6 919.1L1118.6 918.0L1119.9 919.4L1122.1 917.6L1124.0 917.6L1126.3 915.9L1128.0 915.8L1130.6 914.9L1132.2 916.3L1134.5 917.1L1136.5 917.9L1138.1 918.9L1140.0 917.4L1142.1 920.1L1144.5 921.2L1146.9 922.1L1148.6 921.1L1150.9 922.9L1152.2 922.8L1154.1 921.3L1156.8 923.4L1159.1 923.4L1160.5 923.2L1163.4 922.9L1165.1 921.7L1166.8 922.7L1169.7 921.1L1171.6 923.4L1173.3 923.2L1175.2 921.5L1177.7 923.2L1179.8 920.8L1182.2 922.2L1184.2 921.1L1185.9 920.6L1187.9 921.6L1190.2 922.2L1192.7 921.2L1194.8 922.2L1196.7 920.8L1199.5 922.3L1200.9 922.4L1203.5 921.7L1206.1 921.2L1208.0 922.2L1210.9 920.9L1213.1 922.8L1214.8 922.7L1217.5 922.9L1219.7 921.8L1222.0 921.6L1224.3 922.2L1226.3 921.9L1228.8 922.5L1231.3 923.3L1233.2 922.2L1235.5 920.4L1237.5 921.6L1240.4 920.2L1241.8 917.2L1243.8 916.6L1246.2 914.6L1248.3 915.6L1250.8 913.1L1252.3 913.9L1254.7 911.4L1256.4 910.2L1258.4 908.8L1259.9 908.2L1262.0 906.1L1263.4 905.3L1265.5 904.8L1267.2 901.5L1268.5 900.1L1269.7 898.7L1271.1 896.1L1271.9 893.1L1273.9 893.6L1275.2 889.6L1277.3 890.0L1279.2 889.8L1281.2 888.3L1283.8 889.8L1286.1 889.4L1287.9 891.8L1289.4 892.8L1290.9 891.0L1293.3 892.0L1295.2 894.8L1297.3 894.3L1299.5 895.1L1301.5 899.0L1303.6 898.6L1306.2 901.1L1308.1 903.0L1310.4 903.3L1312.3 904.2L1313.7 904.5L1315.6 904.6L1317.8 906.5L1319.9 906.2L1321.7 907.5L1323.2 908.6L1325.7 910.5L1327.1 910.0L1329.0 911.6L1332.0 913.0L1334.0 915.4L1335.5 914.9L1337.9 915.8L1340.4 918.1L1342.1 918.5L1344.5 918.6L1346.7 919.1L1349.3 919.3L1352.1 918.7L1353.4 918.2L1356.5 919.2L1358.5 918.9L1360.9 920.3L1362.9 919.5L1364.6 918.0L1367.0 920.3L1369.8 920.6L1372.0 918.5L1373.5 919.4L1375.7 920.5L1378.8 921.6L1380.2 921.1L1383.0 921.2L1385.0 920.1L1387.6 922.3L1389.7 921.4L1391.3 920.8L1393.8 920.8L1396.0 922.3L1398.6 921.0L1401.1 920.6L1403.3 922.6L1405.3 921.8L1407.6 923.7L1409.4 921.5L1412.1 921.9L1413.7 922.6L1416.1 921.8L1418.4 921.4L1421.1 922.8L1423.2 922.0L1425.5 924.0L1427.9 921.2L1429.6 921.4L1432.0 923.1L1434.3 922.2L1436.9 923.0L1439.2 922.4L1441.0 921.4L1443.1 923.0L1444.9 922.8L1446.9 922.1L1449.4 922.0L1451.1 921.0L1453.4 922.3L1455.5 920.8L1457.5 921.0L1459.4 921.7L1461.8 920.8L1463.5 922.5L1465.6 919.9L1467.9 921.8L1470.6 921.6L1472.1 921.7L1474.0 919.4L1476.3 920.6L1478.8 920.6L1481.2 920.9L1483.0 919.1L1485.4 921.5L1487.4 919.2L1489.3 920.7L1491.2 920.2L1493.5 922.1L1495.6 920.8L1497.7 920.3L1499.7 920.4L1501.1 920.8L1503.7 923.7L1505.6 922.9L1508.0 923.6L1510.4 923.5L1512.0 921.1L1514.8 921.5L1516.9 923.0L1518.7 920.8L1521.1 922.6L1523.7 922.8L1525.4 921.5L1528.2 920.6L1530.1 920.0L1532.4 920.4L1534.1 920.9L1535.9 921.1L1538.0 919.8L1540.3 920.3L1542.2 920.8L1544.3 919.2L1546.2 920.4L1547.7 919.6L1550.1 918.5L1551.8 917.7L1554.3 918.9L1556.6 917.9L1558.5 917.4L1559.8 916.4L1562.5 915.9L1564.0 915.1L1566.2 913.7L1568.5 913.8L1569.9 913.2L1572.1 911.5L1574.9 913.3L1576.5 912.5L1578.6 911.4L1580.9 909.8L1583.2 910.9L1585.7 909.2L1587.4 908.6L1589.5 909.0L1592.3 910.5L1593.9 908.8L1596.3 908.7L1598.8 910.2L1599.9 908.9L1602.4 910.1L1604.4 911.0L1606.0 910.3L1608.6 909.8L1610.1 911.4L1612.0 911.6L1614.0 910.8L1616.1 913.0L1618.3 912.8L1620.5 912.5L1622.7 913.3L1624.4 911.9L1626.1 913.7L1628.8 914.2L1630.0 914.7L1632.2 914.3L1634.2 912.9L1636.7 914.4L1638.6 915.2L1640.6 914.5L1642.3 915.1L1644.3 914.5L1646.8 914.9L1648.7 916.1L1650.5 916.7L1652.4 914.5L1654.9 917.0L1656.8 917.8L1658.5 916.5L1660.7 917.9L1662.8 917.6L1665.8 915.9L1667.3 915.4L1670.3 915.4L1672.9 915.0L1675.3 915.6L1677.7 915.4L1679.3 916.3L1681.9 917.0L1684.8 914.8L1686.9 915.6L1689.5 914.6L1691.7 915.2L1694.0 915.1L1696.2 914.4L1698.7 916.3L1700.9 913.9L1703.0 916.2L1705.5 914.6L1707.5 916.2L1710.2 916.1L1712.5 918.2L1713.9 917.7L1716.6 918.5L1719.1 917.6L1721.2 917.3L1723.3 918.3L1724.6 920.0L1727.4 919.6L1729.2 918.8L1730.7 919.6L1733.2 918.5L1734.9 918.6L1736.8 920.4L1738.5 918.0L1740.7 920.3L1743.1 920.3L1745.2 920.8L1747.1 918.2L1748.7 919.5L1750.7 919.2L1752.9 921.3L1755.5 920.5L1757.0 919.7L1758.7 919.9L1760.8 920.2L1763.4 919.9L1765.3 921.2L1767.5 920.1L1768.9 921.6L1771.1 919.8L1773.3 921.6L1775.6 920.2L1776.9 919.9L1779.0 919.9L1781.6 921.2L1782.9 919.6L1785.2 922.2L1787.6 921.7L1789.7 919.9L1792.6 919.5L1794.3 920.9L1796.4 921.6L1799.0 920.0L1800.7 920.8L1803.1 921.2L1805.5 920.3L1807.9 920.7L1809.3 920.6L1811.9 919.8L1814.4 921.1L1816.3 920.2L1818.1 920.1L1820.8 921.3L1823.0 919.4L1825.3 921.4L1827.4 920.9L1829.7 922.2L1831.7 920.6L1833.8 921.7L1836.1 921.6L1838.0 921.1L1840.1 921.0L1842.1 920.9L1844.9 922.0L1846.9 921.9L1848.9 919.3L1851.4 920.3L1853.4 921.1L1855.9 921.9L1857.7 921.0L1860.2 921.4L1862.3 920.7L1864.7 919.4L1866.9 919.8L1868.6 921.3L1871.2 920.3L1873.4 919.5L1876.0 919.6L1878.5 919.9L1879.8 920.8" fill="none" stroke="#ff0000" stroke-width="9" stroke-linejoin="round" stroke-linecap="butt"/><path d="M171.5 765.6L172.3 767.7L174.5 767.5L176.1 769.8L178.0 772.5L179.1 771.5L181.9 774.0L183.7 773.5L185.3 776.5L187.0 778.1L189.5 776.3L190.7 778.8L193.6 779.3L195.2 780.4L197.2 780.8L199.6 782.7L201.4 782.9L203.9 784.4L206.1 783.3L209.0 785.0L211.4 783.9L214.1 785.8L215.5 784.0L218.7 784.6L221.2 782.9L223.3 782.8L225.3 781.8L228.3 781.8L230.3 780.4L232.1 778.8L235.0 778.8L236.6 778.8L239.1 778.9L240.9 777.9L243.4 778.0L245.1 775.8L246.9 773.2L248.3 773.6L250.9 771.7L252.0 769.0L254.3 769.6L256.3 766.6L258.2 764.1L259.9 764.6L261.9 761.4L263.5 759.9L265.7 756.6L266.9 757.4L268.4 755.4L269.8 753.1L271.1 751.1L272.0 750.7L273.5 746.8L274.4 745.7L275.2 743.3L276.3 742.3L277.4 739.9L277.8 737.2L278.7 735.9L280.0 734.1L280.6 731.7L280.8 729.4L281.9 724.7L282.1 722.0L283.5 720.3L283.6 719.0L284.6 715.0L285.1 713.9L285.9 710.7L287.1 708.9L287.5 706.5L287.9 703.8L289.0 700.8L289.4 700.5L290.5 695.9L291.3 695.5L291.5 691.0L292.3 691.2L293.1 689.3L294.3 687.1L294.7 686.7L295.9 682.9L295.6 681.4L296.0 679.0L296.2 676.8L296.1 673.3L297.2 672.7L296.8 670.4L297.0 668.4L297.7 664.6L297.5 661.1L298.3 658.9L298.4 659.4L298.4 654.8L298.9 654.9L299.0 651.3L299.0 648.5L299.0 647.3L299.5 643.6L299.4 642.7L299.8 640.0L300.1 638.8L300.8 634.0L300.4 632.7L301.4 631.8L301.0 627.8L301.5 627.4L302.0 623.7L302.2 622.4L302.1 621.1L302.1 618.0L302.2 614.1L303.1 612.0L303.2 610.9L303.6 607.9L303.3 605.4L304.0 604.1L304.3 602.7L303.8 599.5L303.9 595.7L304.1 596.0L304.9 593.7L304.7 590.8L305.3 587.9L305.2 585.2L305.0 583.1L305.9 581.7L306.1 579.2L305.7 578.0L306.4 573.4L306.5 571.4L306.1 571.6L306.3 567.4L307.3 565.7L306.7 562.7L307.0 562.2L307.1 560.5L307.5 558.5L308.2 554.2L307.7 552.5L307.8 550.8L307.9 546.7L309.0 545.3L308.8 543.6L308.7 540.2L309.5 540.7L309.7 535.9L309.2 535.2L310.1 532.7L310.0 530.8L309.8 528.3L310.0 525.1L310.0 523.0L311.1 521.3L311.0 519.7L311.5 516.7L311.1 514.3L311.4 513.6L312.1 509.7L311.8 508.2L312.3 506.2L312.2 502.2L312.4 500.1L312.9 497.9L312.7 497.4L313.1 495.6L313.5 493.6L313.5 490.3L314.3 486.8L314.6 484.9L314.7 485.1L314.9 480.8L314.5 479.2L315.5 476.3L315.7 473.6L315.9 471.1L315.6 471.5L316.3 469.3L316.5 466.5L316.6 462.6L316.6 460.3L317.1 459.6L316.9 455.6L317.8 455.5L317.6 452.4L318.1 450.0L317.9 447.5L318.0 444.1L318.4 443.0L318.5 439.6L318.4 437.6L318.3 435.6L319.0 433.7L318.8 432.0L318.8 427.9L319.2 427.1L319.4 424.6L319.6 423.2L319.3 420.0L319.6 417.0L319.6 415.6L320.1 414.3L319.5 411.0L319.4 406.9L319.9 406.9L319.6 404.2L320.3 400.5L320.2 399.7L320.0 396.9L320.4 394.2L320.5 392.7L320.7 389.4L320.0 386.1L320.1 384.6L320.7 380.7L320.7 380.3L320.4 377.4L320.3 375.6L320.3 374.0L321.0 370.6L320.6 369.1L321.3 364.4L321.2 364.1L321.1 361.3L321.0 359.6L321.5 355.6L321.5 353.4L320.9 350.7L321.0 350.1L321.8 345.3L321.5 343.8L321.1 341.0L321.3 340.0L321.2 336.1L321.6 333.4L321.9 333.0L322.1 329.8L321.7 328.7L321.8 326.8L321.8 325.0L322.4 323.2L322.6 320.3L322.3 319.2L322.6 316.2L322.3 313.3L322.1 312.7L322.2 310.4L322.7 309.0L323.0 306.9L322.5 303.4L322.9 300.7L323.0 298.8L323.1 295.6L323.0 294.8L323.0 292.6L323.5 291.4L323.3 289.1L323.3 285.7L323.0 283.8L323.6 283.5L323.9 280.3L324.1 278.1L324.1 275.8L324.1 275.5L323.7 270.9L324.1 269.9L323.9 266.2L324.1 265.4L324.1 264.6L324.4 262.1L324.7 260.1L324.4 258.0L324.6 255.6L324.7 252.7L324.8 251.1L325.2 249.2L325.2 246.7L325.3 243.8L325.0 240.4L325.5 239.8L325.4 235.3L325.8 233.9L325.6 230.2L325.7 229.9L325.8 226.3L326.1 222.9L326.1 223.3L326.3 219.3L326.4 217.5L326.1 214.0L326.8 211.8L326.2 211.0L326.7 207.3L326.8 206.0L326.6 203.4L327.2 201.5L327.0 198.5L327.0 195.9L327.1 194.2L327.8 190.5L327.4 190.0L327.9 187.2L327.4 185.0L328.1 180.9L328.0 179.8L328.4 175.6L328.4 173.1L328.8 171.6L328.9 170.2L328.7 166.2L328.7 163.4L328.4 162.7L328.6 160.4L328.6 157.8L329.1 154.1L328.6 151.9L329.0 148.5L328.8 145.9L329.2 146.0L328.9 140.9L329.4 140.8L329.7 137.7L329.2 135.9L329.1 132.9L329.1 129.7L329.6 127.4L329.4 124.9L330.0 123.6L329.9 120.8L330.1 119.1L330.1 118.7L330.5 114.1L330.4 114.4L330.1 110.9L330.3 110.4L330.3 108.2L330.7 104.0L331.1 101.5L330.8 101.5L331.1 98.6L331.6 96.9L332.6 95.8L332.2 90.7L333.2 88.5L333.1 87.9L333.3 88.5L334.2 92.7L334.7 95.7L335.0 96.7L335.4 100.4L335.9 100.2L335.8 104.3L336.6 104.5L336.8 107.2L336.8 107.8L336.7 111.0L336.7 114.5L337.0 115.9L337.3 118.2L337.5 120.3L337.1 123.1L337.2 125.0L337.9 126.8L337.3 126.6L338.1 129.9L337.7 133.8L337.5 134.9L337.9 136.3L337.9 140.5L338.4 140.9L338.1 143.6L338.4 146.0L337.8 149.4L338.5 151.7L338.0 155.6L338.6 158.2L338.2 159.4L338.2 162.2L338.4 164.0L338.8 168.3L338.7 168.3L338.8 171.6L339.1 174.8L339.0 177.2L338.7 180.2L339.0 180.8L338.4 183.4L338.8 185.0L338.7 188.8L338.4 191.9L339.0 192.8L338.7 195.3L338.8 198.9L338.9 200.6L338.6 204.1L338.8 204.8L338.6 209.1L339.0 211.3L339.4 213.9L339.4 216.1L339.5 218.1L338.8 219.7L339.2 223.5L339.4 225.0L339.4 226.3L339.6 229.6L339.2 231.4L339.7 234.0L339.0 235.2L339.5 238.9L339.7 240.1L339.3 244.2L339.0 244.7L339.5 247.6L339.1 250.0L339.6 253.1L339.2 253.9L339.9 257.7L339.3 260.5L339.2 261.0L340.0 264.1L339.6 266.8L339.9 268.8L340.2 269.6L340.1 272.0L340.4 274.9L340.2 277.0L340.5 277.5L339.8 281.0L340.4 282.4L340.2 284.2L340.6 287.5L340.3 287.3L340.6 290.7L340.1 292.3L340.6 293.5L340.1 296.5L340.8 299.9L341.0 301.4L340.6 303.6L340.6 305.6L341.0 309.0L340.6 310.1L340.6 311.2L340.8 314.2L340.9 317.4L340.6 318.5L341.4 320.9L341.0 321.9L340.9 325.7L341.4 327.0L341.5 329.9L341.5 330.3L341.2 333.6L341.1 335.6L341.3 336.5L341.3 338.1L341.4 341.4L341.2 343.1L341.5 347.5L341.9 348.2L342.4 350.5L342.0 354.3L342.3 355.8L342.5 358.3L342.5 360.7L342.9 363.7L342.2 364.3L343.1 367.0L342.3 369.5L342.8 373.9L342.9 375.6L343.3 376.1L343.3 381.2L343.3 382.2L343.2 385.8L343.9 385.6L343.6 388.9L343.8 390.4L343.6 393.3L343.9 397.2L344.3 399.5L344.2 399.8L344.1 403.9L344.1 405.8L344.8 407.0L344.8 409.4L344.5 414.2L344.4 415.5L344.7 419.0L345.3 419.4L345.1 423.7L345.3 424.0L345.7 426.6L345.6 427.9L346.2 432.1L346.3 435.4L345.9 436.5L346.2 439.4L346.8 440.1L346.5 443.8L346.8 444.4L346.7 448.2L347.2 451.5L347.3 452.6L347.0 454.3L347.2 457.5L347.3 458.3L347.5 461.3L347.6 463.9L347.6 466.9L348.2 468.1L347.7 469.7L348.4 472.9L348.6 475.9L348.2 476.9L348.4 478.0L348.3 480.7L348.4 483.7L349.0 486.0L349.1 487.2L348.8 490.5L349.5 492.3L348.8 493.3L349.2 497.3L349.1 498.4L349.8 502.9L349.6 503.9L349.8 504.4L349.8 507.0L349.8 511.1L350.3 511.2L349.9 515.4L350.0 516.4L350.3 517.9L350.1 520.4L350.6 525.0L350.9 525.1L351.1 527.4L351.1 529.8L351.7 532.1L351.7 535.2L352.0 537.3L352.1 539.0L352.1 541.8L352.2 543.9L352.3 545.6L352.8 548.6L352.7 549.0L352.8 551.6L352.7 554.6L353.2 556.3L353.1 559.4L353.5 561.2L353.3 563.4L354.0 566.1L354.0 569.2L354.4 571.0L353.9 572.1L354.7 573.8L355.0 576.0L355.2 578.5L355.3 582.6L355.0 584.9L355.0 587.0L355.4 588.0L355.3 590.7L355.6 593.2L356.3 595.2L355.8 598.5L356.7 599.8L356.4 601.8L357.0 603.7L357.1 606.3L357.0 609.5L357.1 610.7L356.9 612.4L357.1 615.3L357.2 615.5L357.5 618.0L358.0 620.8L357.9 624.8L358.7 626.0L358.7 628.7L358.4 630.9L358.5 632.3L358.8 633.3L359.3 637.7L359.1 639.8L359.3 641.3L360.0 643.8L359.3 645.0L359.8 646.7L360.3 649.3L360.4 652.1L360.4 652.5L360.7 657.2L360.4 658.7L360.8 659.9L361.2 664.0L360.7 666.0L361.2 667.9L361.2 669.8L361.3 670.9L362.2 674.1L362.2 675.8L362.1 678.0L362.5 680.7L362.5 682.5L363.3 685.2L364.1 688.3L363.9 689.3L364.4 690.7L364.8 693.5L365.9 697.4L366.4 698.7L366.3 703.2L367.4 705.5L367.1 706.3L368.2 709.7L369.1 711.5L369.4 712.3L370.6 717.7L371.4 719.2L371.6 720.3L372.7 724.8L373.8 724.9L374.5 728.4L375.3 731.6L376.8 733.9L377.5 736.2L378.4 738.1L379.0 741.1L379.9 742.8L381.1 744.7L382.3 746.7L383.5 748.2L383.7 752.5L385.1 752.2L386.4 754.8L388.2 756.8L388.6 758.1L389.8 759.7L391.3 760.3L393.1 761.9L395.0 764.0L397.5 762.8L400.2 765.6L402.5 765.6L404.9 765.5L406.8 765.9L409.4 766.5L411.7 766.4L413.6 766.9L415.7 768.4L417.9 766.4L419.9 768.1L422.0 766.8L424.0 765.2L426.3 764.3L428.5 763.9L430.3 764.8L432.7 766.4L434.4 767.9L436.4 768.6L438.9 770.2L441.3 773.8L443.4 774.6L445.7 775.2L448.4 775.4L450.7 777.1L453.2 776.9L455.7 778.8L458.7 778.9L460.7 778.2L462.0 780.2L464.3 780.3L467.0 780.0L468.3 780.9L470.8 779.4L472.4 780.4L474.4 781.9L476.9 781.9L478.6 782.4L480.7 781.9L483.1 779.9L485.3 780.5L488.1 781.1L490.2 782.0L492.2 782.2L494.9 783.1L497.1 783.0L499.5 782.6L501.0 781.0L502.7 782.5L504.8 781.5L507.1 779.7L508.9 781.9L511.2 782.1L513.5 779.5L515.4 779.2L517.1 780.1L519.6 780.2L520.9 779.4L523.2 777.9L525.1 779.4L527.7 778.6L528.9 778.3L531.2 777.4L533.0 774.7L535.7 774.6L536.9 775.2L539.8 776.8L541.4 778.3L543.9 779.1L545.7 778.7L547.7 779.3L549.7 778.7L551.2 776.6L552.3 775.1L553.9 772.2L555.8 772.8L557.2 771.3L559.3 769.6L560.7 768.9L562.7 766.3L563.6 765.0L565.0 764.6L567.3 761.5L568.9 761.2L570.6 759.4L572.4 759.2L574.0 756.9L576.1 754.5L577.7 754.6L579.9 755.8L582.0 753.1L584.0 754.3L586.6 756.5L588.5 756.7L589.6 756.3L592.1 759.6L593.8 761.1L595.9 761.2L597.7 761.4L599.0 765.9L600.7 765.2L602.3 769.0L604.0 769.4L605.7 771.8L608.0 772.5L610.1 775.4L612.0 773.6L613.4 777.1L615.8 775.7L617.5 777.4L619.7 777.0L621.5 779.8L624.2 778.3L626.1 780.8L628.4 780.8L630.6 780.8L632.0 781.3L634.5 781.7L636.3 782.0L638.2 784.1L640.5 783.9L643.0 781.5L645.2 780.8L647.4 780.8L648.8 782.2L650.7 782.7L652.8 782.6L654.9 781.4L657.1 780.3L659.5 780.3L661.5 780.8L663.4 779.1L666.0 779.2L668.3 779.2L670.0 777.5L671.6 777.2L674.3 778.3L676.7 777.1L678.6 776.3L680.2 775.9L682.9 776.6L685.0 776.2L686.8 774.9L688.7 774.4L690.8 774.4L692.9 773.9L694.4 774.8L696.9 773.3L698.4 773.4L700.2 771.0L701.9 771.0L703.6 769.5L706.4 767.7L708.0 767.9L710.6 766.6L712.5 764.3L714.3 763.7L715.9 762.9L717.3 760.8L719.1 757.7L719.6 756.0L721.4 755.5L723.0 752.0L723.6 749.9L725.6 749.6L726.0 747.9L727.9 745.8L728.3 745.1L729.8 741.0L731.2 740.0L732.5 737.8L733.9 735.9L735.9 734.2L738.1 732.1L739.3 734.9L741.5 734.8L743.5 734.9L745.2 736.0L746.7 739.1L749.6 739.2L751.1 738.6L753.5 738.0L756.1 736.6L758.1 738.3L760.7 738.4L762.5 739.4L764.9 739.4L767.1 740.2L768.9 741.2L771.2 742.5L773.8 744.5L776.2 745.0L778.7 744.4L780.3 745.1L782.3 746.8L784.9 746.4L787.5 749.9L788.7 748.5L790.7 752.4L793.3 752.2L794.5 755.4L796.7 755.6L798.5 757.6L801.0 758.9L803.9 759.5L806.2 760.1L809.2 761.0L811.4 762.5L813.7 763.2L815.5 763.2L818.2 765.6L819.9 764.4L822.7 764.8L824.7 767.8L826.2 768.3L828.3 766.6L830.5 768.1L832.9 769.1L835.1 770.3L836.6 769.6L839.3 769.9L841.5 772.7L843.0 771.7L845.1 772.8L847.2 772.2L849.3 773.2L851.5 774.5L854.0 775.7L855.9 776.8L857.8 776.0L859.8 777.9L862.4 778.6L864.3 776.6L865.9 778.9L868.7 778.1L870.9 779.3L872.8 777.7L874.6 777.7L876.7 778.1L878.4 777.1L880.6 778.5L883.4 779.1L884.8 778.4L887.3 777.5L888.9 778.9L891.2 779.0L893.2 779.4L895.4 778.0L897.7 779.2L900.1 778.9L902.0 776.5L903.7 777.7L906.5 778.1L907.8 776.9L910.6 777.2L912.6 778.1L914.7 777.3L916.6 776.4L918.2 778.3L920.3 776.4L922.9 778.6L924.6 776.5L927.3 776.8L929.0 777.0L930.7 778.8L933.4 776.1L935.0 776.5L937.3 778.9L939.2 777.0L941.4 777.9L944.0 778.2L946.1 778.3L947.8 779.4L950.0 778.4L952.1 778.2L954.1 777.5L956.0 779.7L958.0 778.1L960.3 778.8L962.3 778.9L964.7 779.9L967.1 778.1L968.8 778.3L970.5 779.2L972.9 779.4L975.1 777.3L976.5 778.5L978.5 777.1L981.0 778.4L983.0 776.8L985.3 778.8L987.7 779.5L990.1 778.7L991.7 776.6L993.2 774.3L994.7 774.8L997.3 771.6L998.7 771.5L1001.0 772.1L1003.3 769.6L1005.9 770.7L1008.0 769.1L1009.8 768.0L1013.4 767.1L1015.2 768.5L1017.8 768.4L1020.3 768.6L1022.5 767.4L1025.2 768.3L1027.5 770.2L1029.6 770.3L1032.2 773.2L1033.8 773.5L1036.1 774.0L1038.0 773.4L1040.6 774.0L1043.0 774.4L1044.8 773.7L1046.7 774.2L1049.1 775.2L1050.9 775.3L1052.9 776.4L1055.7 776.1L1057.7 777.4L1059.3 776.3L1061.8 777.7L1063.5 778.4L1066.0 780.2L1067.8 780.4L1069.4 779.0L1071.4 778.3L1074.2 777.8L1076.0 779.3L1078.3 780.9L1079.5 778.8L1082.3 779.1L1083.6 781.0L1086.0 779.3L1087.9 779.8L1089.8 780.3L1091.5 780.6L1094.3 780.6L1096.3 779.6L1098.0 778.6L1101.0 778.7L1102.7 780.1L1105.3 779.8L1107.2 780.2L1109.5 780.1L1111.4 779.6L1113.6 778.5L1116.2 777.7L1118.5 779.5L1120.4 777.3L1123.6 777.9L1125.2 779.1L1127.6 776.8L1129.8 776.9L1132.0 778.3L1134.0 777.1L1136.2 777.8L1138.2 778.7L1140.3 777.9L1141.6 779.2L1144.5 779.4L1146.2 778.7L1148.4 779.7L1150.8 780.9L1152.5 779.2L1154.3 781.8L1156.8 779.6L1159.1 779.7L1160.8 781.7L1162.6 779.4L1164.6 779.7L1167.0 780.2L1169.0 779.4L1171.2 780.7L1173.5 780.4L1175.4 780.5L1177.8 780.1L1179.6 781.0L1181.8 781.2L1184.2 780.6L1186.8 782.5L1188.8 781.5L1191.2 780.6L1193.3 781.0L1195.5 780.8L1197.7 780.3L1199.7 780.2L1202.3 780.4L1204.7 782.4L1206.9 780.7L1209.3 780.7L1211.0 781.4L1213.3 780.6L1215.5 781.6L1217.0 779.4L1219.1 780.4L1221.3 778.5L1223.1 780.3L1225.7 779.1L1227.7 779.5L1229.2 776.8L1231.3 777.5L1233.9 776.6L1235.7 777.6L1237.5 775.8L1239.8 775.6L1242.6 776.3L1244.8 773.3L1246.6 774.3L1248.8 774.7L1251.1 775.3L1252.3 772.9L1254.9 772.9L1257.1 772.5L1258.7 772.0L1260.4 772.0L1263.2 772.4L1264.9 770.0L1267.1 769.5L1269.2 769.8L1271.6 770.5L1273.1 768.7L1275.7 766.8L1277.4 766.1L1279.7 766.0L1280.8 765.5L1283.0 765.9L1285.4 763.5L1287.4 763.2L1289.3 763.9L1291.6 765.2L1293.7 767.9L1295.4 766.5L1297.4 767.7L1299.5 771.7L1301.1 771.9L1303.1 771.8L1304.7 773.7L1307.2 774.9L1308.8 775.7L1310.8 774.3L1313.0 774.2L1315.5 775.5L1317.5 775.9L1319.1 776.7L1321.9 774.4L1323.6 777.0L1325.7 777.5L1328.1 777.3L1330.4 778.1L1332.2 776.4L1334.1 778.8L1336.2 778.9L1338.1 780.1L1340.3 779.8L1342.5 778.5L1344.3 778.5L1346.9 779.6L1348.9 778.4L1351.9 781.1L1353.8 779.7L1356.2 778.6L1358.3 780.4L1360.9 780.4L1362.8 779.7L1365.4 780.1L1367.2 780.9L1369.4 778.9L1371.8 781.4L1373.8 779.1L1375.8 781.5L1378.0 780.7L1380.2 780.2L1383.2 779.3L1384.9 780.3L1387.4 780.1L1389.4 778.5L1391.9 779.2L1394.1 779.6L1396.0 781.2L1398.3 781.1L1400.7 779.7L1402.7 778.5L1405.4 779.3L1407.5 778.4L1409.6 779.8L1412.1 779.8L1414.0 779.8L1416.4 779.1L1418.7 778.6L1420.4 778.0L1423.5 780.2L1425.6 778.3L1427.8 779.8L1429.8 778.3L1431.6 780.3L1434.6 779.8L1436.4 779.4L1439.0 778.7L1440.6 780.0L1443.2 779.4L1445.5 777.4L1447.6 777.3L1449.6 780.2L1452.2 779.1L1454.0 779.5L1456.6 779.4L1458.9 780.3L1461.0 779.4L1463.3 779.4L1465.6 778.3L1467.3 778.1L1469.5 779.5L1472.0 780.2L1474.1 778.4L1477.0 778.2L1478.7 780.1L1481.2 778.9L1483.0 779.9L1485.3 780.8L1487.6 781.1L1489.6 780.2L1492.1 779.8L1494.4 780.9L1496.5 780.8L1498.5 780.5L1501.5 779.9L1503.8 779.8L1505.5 781.5L1508.3 781.2L1509.9 781.6L1512.2 781.2L1514.4 779.2L1516.5 780.4L1519.4 779.8L1520.8 780.2L1523.8 780.4L1525.2 778.9L1528.1 779.9L1530.4 780.4L1532.3 779.6L1534.0 777.4L1536.3 778.5L1538.4 777.3L1540.4 778.6L1542.4 778.6L1544.0 777.9L1545.7 776.9L1548.2 776.5L1550.0 777.6L1552.2 778.0L1554.1 776.6L1556.1 776.8L1558.3 776.9L1559.8 774.0L1562.0 775.1L1564.4 773.5L1566.2 774.2L1568.2 774.5L1569.8 773.9L1572.5 772.9L1575.3 772.8L1577.6 769.2L1579.6 770.9L1581.8 768.6L1584.5 767.5L1586.3 767.7L1588.5 766.4L1590.4 766.7L1592.7 769.3L1594.5 769.0L1596.1 766.7L1599.3 768.4L1600.8 769.9L1603.7 768.9L1605.7 770.3L1607.4 770.2L1610.0 771.5L1612.0 772.6L1614.3 773.8L1616.6 772.1L1618.5 774.5L1620.2 774.0L1622.9 774.4L1624.7 773.7L1627.1 775.5L1628.5 774.3L1630.1 775.1L1633.0 776.5L1634.3 775.4L1636.3 776.0L1638.3 776.2L1640.7 779.1L1643.0 778.9L1644.6 780.4L1646.3 777.8L1648.5 779.2L1650.9 776.2L1652.3 775.6L1654.6 774.3L1656.6 770.5L1658.2 770.3L1660.5 772.9L1662.4 773.0L1665.0 776.1L1666.6 775.8L1668.6 776.0L1671.2 778.0L1673.1 776.4L1675.3 775.6L1677.3 778.0L1680.3 776.0L1681.7 777.4L1684.0 777.0L1686.7 777.0L1688.3 779.3L1690.9 778.8L1692.9 776.8L1695.2 776.8L1696.5 778.2L1699.1 779.6L1700.4 777.1L1702.4 777.1L1705.2 777.0L1706.9 777.3L1708.4 777.5L1710.7 778.3L1713.2 778.3L1714.9 777.5L1716.6 778.1L1718.8 779.4L1720.7 776.8L1722.5 777.7L1724.7 777.9L1727.3 778.9L1729.0 779.2L1731.3 776.9L1733.1 777.1L1734.9 777.9L1736.8 776.8L1738.7 778.8L1741.4 779.4L1742.6 778.4L1744.7 778.3L1747.1 777.3L1748.7 778.3L1750.6 779.4L1753.4 776.9L1755.3 779.4L1756.6 778.7L1759.0 777.5L1761.4 778.7L1763.4 779.9L1765.5 779.1L1767.4 777.3L1768.9 778.6L1771.1 778.3L1773.4 779.0L1775.4 778.6L1777.5 778.4L1779.6 779.0L1781.0 779.2L1782.8 779.5L1785.2 779.8L1786.8 778.7L1789.2 777.7L1791.4 780.2L1793.3 779.9L1795.6 779.0L1797.2 780.3L1799.4 778.5L1801.3 780.0L1803.5 778.1L1804.9 779.9L1807.4 780.0L1809.2 779.0L1811.7 778.7L1813.1 778.1L1814.9 779.9L1817.4 778.8L1819.5 778.7L1821.2 780.1L1823.6 779.6L1825.6 779.7L1827.5 780.9L1829.4 780.1L1831.7 778.6L1832.9 778.6L1835.2 780.2L1837.5 780.6L1839.0 781.3L1841.2 781.6L1843.7 781.3L1846.4 778.9L1848.6 780.1L1851.4 779.6L1853.3 779.5L1855.4 780.7L1858.3 779.6L1860.9 779.9L1863.4 781.3L1865.8 780.6L1868.1 781.2L1870.4 780.7L1872.8 780.3L1875.5 782.4L1877.7 782.2L1879.8 781.2" fill="none" stroke="#0000ff" stroke-width="9" stroke-linejoin="round" stroke-linecap="butt"/></g><line x1="582.3" y1="758.2" x2="582.3" y2="1246.0" stroke="#000" stroke-width="8" stroke-dasharray="7 33" stroke-linecap="round"/><line x1="737.6" y1="732.4" x2="737.6" y2="1262.0" stroke="#000" stroke-width="8" stroke-dasharray="7 33" stroke-linecap="round"/><line x1="1285.3" y1="756.7" x2="1285.3" y2="1246.0" stroke="#000" stroke-width="8" stroke-dasharray="7 33" stroke-linecap="round"/><rect x="171.0" y="40.5" width="1709.0" height="1235.5" fill="none" stroke="#000" stroke-width="5"/><rect x="172.0" y="1287.0" width="1708.0" height="166.0" fill="none" stroke="#000" stroke-width="5"/><rect x="172.0" y="1464.0" width="1709.5" height="158.5" fill="none" stroke="#000" stroke-width="5"/><rect x="172.0" y="1635.0" width="1708.0" height="153.5" fill="none" stroke="#000" stroke-width="5"/><rect x="172.0" y="1802.0" width="1710.0" height="158.0" fill="none" stroke="#000" stroke-width="5"/><line x1="588.5" y1="1309.0" x2="588.5" y2="1453.0" stroke="#000" stroke-width="4"/><line x1="673.8" y1="1412.2" x2="673.8" y2="1453.0" stroke="#000" stroke-width="4"/><line x1="719.6" y1="1406.6" x2="719.6" y2="1453.0" stroke="#000" stroke-width="4"/><line x1="1052.5" y1="1341.8" x2="1052.5" y2="1453.0" stroke="#000" stroke-width="4"/><line x1="1314.7" y1="1372.1" x2="1314.7" y2="1453.0" stroke="#000" stroke-width="4"/><line x1="1516.3" y1="1448.0" x2="1516.3" y2="1453.0" stroke="#000" stroke-width="4"/><line x1="1609.5" y1="1439.8" x2="1609.5" y2="1453.0" stroke="#000" stroke-width="4"/><line x1="1665.5" y1="1444.8" x2="1665.5" y2="1453.0" stroke="#000" stroke-width="4"/><line x1="1695.0" y1="1449.5" x2="1695.0" y2="1453.0" stroke="#000" stroke-width="4"/><line x1="1826.8" y1="1423.4" x2="1826.8" y2="1453.0" stroke="#000" stroke-width="4"/><line x1="389.3" y1="1552.1" x2="389.3" y2="1622.5" stroke="#000" stroke-width="4"/><line x1="441.2" y1="1563.8" x2="441.2" y2="1622.5" stroke="#000" stroke-width="4"/><line x1="473.1" y1="1478.4" x2="473.1" y2="1622.5" stroke="#000" stroke-width="4"/><line x1="564.1" y1="1529.3" x2="564.1" y2="1622.5" stroke="#000" stroke-width="4"/><line x1="575.2" y1="1593.9" x2="575.2" y2="1622.5" stroke="#000" stroke-width="4"/><line x1="612.7" y1="1486.8" x2="612.7" y2="1622.5" stroke="#000" stroke-width="4"/><line x1="769.1" y1="1547.0" x2="769.1" y2="1622.5" stroke="#000" stroke-width="4"/><line x1="900.7" y1="1609.0" x2="900.7" y2="1622.5" stroke="#000" stroke-width="4"/><line x1="922.5" y1="1577.9" x2="922.5" y2="1622.5" stroke="#000" stroke-width="4"/><line x1="1000.5" y1="1612.3" x2="1000.5" y2="1622.5" stroke="#000" stroke-width="4"/><line x1="1052.4" y1="1604.6" x2="1052.4" y2="1622.5" stroke="#000" stroke-width="4"/><line x1="1112.7" y1="1593.9" x2="1112.7" y2="1622.5" stroke="#000" stroke-width="4"/><line x1="1145.8" y1="1525.3" x2="1145.8" y2="1622.5" stroke="#000" stroke-width="4"/><line x1="1226.5" y1="1615.7" x2="1226.5" y2="1622.5" stroke="#000" stroke-width="4"/><line x1="1262.3" y1="1551.1" x2="1262.3" y2="1622.5" stroke="#000" stroke-width="4"/><line x1="1336.2" y1="1614.9" x2="1336.2" y2="1622.5" stroke="#000" stroke-width="4"/><line x1="1386.5" y1="1611.5" x2="1386.5" y2="1622.5" stroke="#000" stroke-width="4"/><line x1="1495.5" y1="1611.5" x2="1495.5" y2="1622.5" stroke="#000" stroke-width="4"/><line x1="1555.0" y1="1616.0" x2="1555.0" y2="1622.5" stroke="#000" stroke-width="4"/><line x1="1578.5" y1="1611.5" x2="1578.5" y2="1622.5" stroke="#000" stroke-width="4"/><line x1="1639.8" y1="1616.0" x2="1639.8" y2="1622.5" stroke="#000" stroke-width="4"/><line x1="1668.0" y1="1590.4" x2="1668.0" y2="1622.5" stroke="#000" stroke-width="4"/><line x1="1797.4" y1="1615.0" x2="1797.4" y2="1622.5" stroke="#000" stroke-width="4"/><line x1="1868.9" y1="1618.0" x2="1868.9" y2="1622.5" stroke="#000" stroke-width="4"/><line x1="628.3" y1="1649.3" x2="628.3" y2="1788.5" stroke="#000" stroke-width="4"/><line x1="781.8" y1="1702.3" x2="781.8" y2="1788.5" stroke="#000" stroke-width="4"/><line x1="1281.8" y1="1764.6" x2="1281.8" y2="1788.5" stroke="#000" stroke-width="4"/><line x1="1604.5" y1="1774.8" x2="1604.5" y2="1788.5" stroke="#000" stroke-width="4"/><line x1="1707.5" y1="1777.0" x2="1707.5" y2="1788.5" stroke="#000" stroke-width="4"/><line x1="333.3" y1="1814.1" x2="333.3" y2="1960.0" stroke="#000" stroke-width="4"/><line x1="718.5" y1="1955.0" x2="718.5" y2="1960.0" stroke="#000" stroke-width="4"/><line x1="771.8" y1="1954.7" x2="771.8" y2="1960.0" stroke="#000" stroke-width="4"/><line x1="1019.9" y1="1949.2" x2="1019.9" y2="1960.0" stroke="#000" stroke-width="4"/><line x1="172.0" y1="1960" x2="172.0" y2="1976.0" stroke="#000" stroke-width="4.5"/><line x1="294.1" y1="1960" x2="294.1" y2="1969.0" stroke="#000" stroke-width="4.5"/><line x1="416.3" y1="1960" x2="416.3" y2="1976.0" stroke="#000" stroke-width="4.5"/><line x1="538.4" y1="1960" x2="538.4" y2="1969.0" stroke="#000" stroke-width="4.5"/><line x1="660.6" y1="1960" x2="660.6" y2="1976.0" stroke="#000" stroke-width="4.5"/><line x1="782.7" y1="1960" x2="782.7" y2="1969.0" stroke="#000" stroke-width="4.5"/><line x1="904.9" y1="1960" x2="904.9" y2="1976.0" stroke="#000" stroke-width="4.5"/><line x1="1027.0" y1="1960" x2="1027.0" y2="1969.0" stroke="#000" stroke-width="4.5"/><line x1="1149.1" y1="1960" x2="1149.1" y2="1976.0" stroke="#000" stroke-width="4.5"/><line x1="1271.3" y1="1960" x2="1271.3" y2="1969.0" stroke="#000" stroke-width="4.5"/><line x1="1393.4" y1="1960" x2="1393.4" y2="1976.0" stroke="#000" stroke-width="4.5"/><line x1="1515.6" y1="1960" x2="1515.6" y2="1969.0" stroke="#000" stroke-width="4.5"/><line x1="1637.7" y1="1960" x2="1637.7" y2="1976.0" stroke="#000" stroke-width="4.5"/><line x1="1759.9" y1="1960" x2="1759.9" y2="1969.0" stroke="#000" stroke-width="4.5"/><line x1="1882.0" y1="1960" x2="1882.0" y2="1976.0" stroke="#000" stroke-width="4.5"/><path d="M387 752 C389 745 392 743 398 743 L430 743 C435 743 438 737 439.5 729 C441 737 444 743 449 743 L484 743 C490 743 494 746 496.6 753" fill="none" stroke="#000" stroke-width="4"/><line x1="385.5" y1="326" x2="370" y2="385" stroke="#000" stroke-width="4.5" stroke-linecap="round"/><path d="M362.4 372 L383 375 L366 412 Z" fill="#000" stroke="#000" stroke-width="2" stroke-linejoin="round"/><text font-size="100" transform="translate(416.403 308.087) rotate(-90) scale(0.57341 0.60222)">C (002)</text><text font-size="100" transform="translate(471.812 709.133) rotate(-90) scale(0.57929 0.60746)">Mn<tspan font-size="57" dy="41">3</tspan><tspan dy="-41">O</tspan><tspan font-size="57" dy="41">4</tspan></text><text font-size="100" transform="translate(607.670 700.382) rotate(-90) scale(0.58390 0.59855)">MnO<tspan font-size="57" dy="41">2</tspan><tspan dy="-41"> (100)</tspan></text><text font-size="100" transform="translate(777.785 701.221) rotate(-90) scale(0.58271 0.59838)">C (100)</text><text font-size="100" transform="translate(1308.027 722.814) rotate(-90) scale(0.58854 0.58964)">MnO<tspan font-size="57" dy="41">2</tspan><tspan dy="-41"> (110)</tspan></text><text font-size="100" transform="translate(1358.000 744.392) scale(0.72262 0.72253)">Ag-Mn<tspan font-size="65">x</tspan><tspan font-size="100">O</tspan><tspan font-size="65">y</tspan><tspan font-size="100">/NGO</tspan></text><text font-size="100" transform="translate(1387.835 889.122) scale(0.72679 0.73553)">Ag-Mn<tspan font-size="65">x</tspan><tspan font-size="100">O</tspan><tspan font-size="65">y</tspan><tspan font-size="100">/rGO</tspan></text><text font-size="100" transform="translate(1692.946 1105.636) scale(0.72653 0.76190)">NGO</text><text font-size="100" transform="translate(1721.313 1221.052) scale(0.72574 0.73132)">rGO</text><text font-size="100" transform="translate(1308.494 1354.014) scale(0.57722 0.58036)">ICSD #29561 - MnO<tspan font-size="57" dy="41">2</tspan></text><text font-size="100" transform="translate(1286.316 1530.437) scale(0.57694 0.58219)">ICSD #33327 - Mn<tspan font-size="57" dy="41">3</tspan><tspan dy="-41">O</tspan><tspan font-size="57" dy="41">4</tspan></text><text font-size="100" transform="translate(1377.769 1699.492) scale(0.58030 0.57157)">ICSD #22434 - Ag</text><text font-size="100" transform="translate(1249.796 1866.930) scale(0.55689 0.55906)">ICSD #18838 - Graphite</text><text font-size="100" transform="translate(844.552 2184.613) scale(1.05728 1.04115)">2</text><text font-size="100" transform="translate(902.377 2184.114) scale(1.24333 1.06661)"><tspan style="font-family:'Liberation Serif',serif">θ</tspan></text><text font-size="100" transform="translate(988.000 2183.420) scale(1.01918 1.01508)">/ degree</text><text font-size="100" transform="translate(88.379 1269.432) rotate(-90) scale(0.78116 0.80783)">Intensity / u.a.</text><text font-size="100" transform="translate(132.992 2034.580) scale(0.68014 0.71786)">20</text><text font-size="100" transform="translate(377.489 2034.580) scale(0.68014 0.71786)">30</text><text font-size="100" transform="translate(622.493 2034.593) scale(0.68014 0.70322)">40</text><text font-size="100" transform="translate(865.997 2034.585) scale(0.68014 0.71757)">50</text><text font-size="100" transform="translate(1109.987 2034.580) scale(0.68014 0.71786)">60</text><text font-size="100" transform="translate(1354.491 2034.585) scale(0.68014 0.71757)">70</text><text font-size="100" transform="translate(1598.495 2034.580) scale(0.68014 0.71786)">80</text><text font-size="100" transform="translate(1842.992 2034.580) scale(0.68014 0.71786)">90</text></svg></body></html>
